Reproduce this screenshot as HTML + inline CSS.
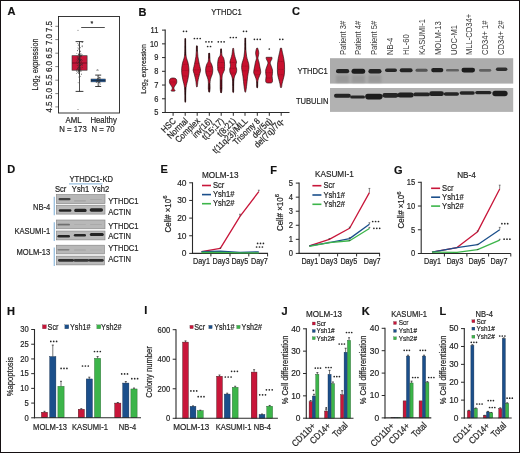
<!DOCTYPE html>
<html><head><meta charset="utf-8"><style>
html,body{margin:0;padding:0;background:#fff;}
svg{display:block;font-family:"Liberation Sans", sans-serif;will-change:transform;} text{stroke:#222;stroke-width:0.2px;} svg{font-variant-ligatures:none;font-feature-settings:"liga" 0;}
</style></head><body>
<svg width="520" height="453" viewBox="0 0 520 453">
<defs><filter id="blur" x="-20%" y="-100%" width="140%" height="300%"><feGaussianBlur stdDeviation="0.55"/></filter><filter id="blur2" x="-20%" y="-50%" width="140%" height="200%"><feGaussianBlur stdDeviation="1.2"/></filter></defs>
<rect x="0" y="0" width="520" height="453" fill="#fff"/>
<text x="7.50" y="14.60" font-size="11.00" text-anchor="start" fill="#111" font-weight="bold">A</text>
<line x1="55.30" y1="26.30" x2="58.50" y2="26.30" stroke="#444" stroke-width="0.65"/>
<text x="52.30" y="26.50" font-size="9.20" text-anchor="middle" fill="#262626" transform="rotate(-90 52.30 26.50)" textLength="11.12" lengthAdjust="spacingAndGlyphs">7.5</text>
<line x1="55.30" y1="39.60" x2="58.50" y2="39.60" stroke="#444" stroke-width="0.65"/>
<text x="52.30" y="39.50" font-size="9.20" text-anchor="middle" fill="#262626" transform="rotate(-90 52.30 39.50)" textLength="11.12" lengthAdjust="spacingAndGlyphs">7.0</text>
<line x1="55.30" y1="53.20" x2="58.50" y2="53.20" stroke="#444" stroke-width="0.65"/>
<text x="52.30" y="53.00" font-size="9.20" text-anchor="middle" fill="#262626" transform="rotate(-90 52.30 53.00)" textLength="11.12" lengthAdjust="spacingAndGlyphs">6.5</text>
<line x1="55.30" y1="66.60" x2="58.50" y2="66.60" stroke="#444" stroke-width="0.65"/>
<text x="52.30" y="66.50" font-size="9.20" text-anchor="middle" fill="#262626" transform="rotate(-90 52.30 66.50)" textLength="11.12" lengthAdjust="spacingAndGlyphs">6.0</text>
<line x1="55.30" y1="80.20" x2="58.50" y2="80.20" stroke="#444" stroke-width="0.65"/>
<text x="52.30" y="80.00" font-size="9.20" text-anchor="middle" fill="#262626" transform="rotate(-90 52.30 80.00)" textLength="11.12" lengthAdjust="spacingAndGlyphs">5.5</text>
<line x1="55.30" y1="93.60" x2="58.50" y2="93.60" stroke="#444" stroke-width="0.65"/>
<text x="52.30" y="93.50" font-size="9.20" text-anchor="middle" fill="#262626" transform="rotate(-90 52.30 93.50)" textLength="11.12" lengthAdjust="spacingAndGlyphs">5.0</text>
<line x1="55.30" y1="106.90" x2="58.50" y2="106.90" stroke="#444" stroke-width="0.65"/>
<text x="52.30" y="107.00" font-size="9.20" text-anchor="middle" fill="#262626" transform="rotate(-90 52.30 107.00)" textLength="11.12" lengthAdjust="spacingAndGlyphs">4.5</text>
<text x="38.00" y="64.50" font-size="8.40" text-anchor="middle" fill="#262626" transform="rotate(-90 38.00 64.50)" textLength="51.80" lengthAdjust="spacingAndGlyphs">Log<tspan font-size="6.4" dy="2.0">2</tspan><tspan dy="-2.0"> expression</tspan></text>
<line x1="79.50" y1="41.60" x2="79.50" y2="55.70" stroke="#222" stroke-width="0.8"/>
<line x1="79.50" y1="70.20" x2="79.50" y2="91.40" stroke="#222" stroke-width="0.8"/>
<line x1="75.60" y1="41.60" x2="83.40" y2="41.60" stroke="#222" stroke-width="0.9"/>
<line x1="75.60" y1="91.40" x2="83.40" y2="91.40" stroke="#222" stroke-width="0.9"/>
<rect x="72.00" y="55.70" width="15.10" height="14.50" fill="#c8163a" stroke="#333" stroke-width="0.6"/>
<line x1="72.00" y1="63.00" x2="87.10" y2="63.00" stroke="#4a0a12" stroke-width="0.65"/>
<line x1="79.50" y1="55.70" x2="79.50" y2="70.20" stroke="#222" stroke-width="0.6"/>
<circle cx="79.63" cy="73.63" r="0.42" fill="#2a2a2a" stroke="none" stroke-width="0.3"/>
<circle cx="78.20" cy="71.44" r="0.42" fill="#2a2a2a" stroke="none" stroke-width="0.3"/>
<circle cx="79.14" cy="60.78" r="0.42" fill="#2a2a2a" stroke="none" stroke-width="0.3"/>
<circle cx="82.16" cy="64.34" r="0.42" fill="#2a2a2a" stroke="none" stroke-width="0.3"/>
<circle cx="79.44" cy="69.20" r="0.42" fill="#2a2a2a" stroke="none" stroke-width="0.3"/>
<circle cx="81.08" cy="62.74" r="0.42" fill="#2a2a2a" stroke="none" stroke-width="0.3"/>
<circle cx="80.32" cy="54.72" r="0.42" fill="#2a2a2a" stroke="none" stroke-width="0.3"/>
<circle cx="78.99" cy="59.28" r="0.42" fill="#2a2a2a" stroke="none" stroke-width="0.3"/>
<circle cx="77.63" cy="50.18" r="0.42" fill="#2a2a2a" stroke="none" stroke-width="0.3"/>
<circle cx="77.22" cy="60.97" r="0.42" fill="#2a2a2a" stroke="none" stroke-width="0.3"/>
<circle cx="79.26" cy="60.28" r="0.42" fill="#2a2a2a" stroke="none" stroke-width="0.3"/>
<circle cx="79.60" cy="51.65" r="0.42" fill="#2a2a2a" stroke="none" stroke-width="0.3"/>
<circle cx="79.39" cy="65.02" r="0.42" fill="#2a2a2a" stroke="none" stroke-width="0.3"/>
<circle cx="80.55" cy="55.81" r="0.42" fill="#2a2a2a" stroke="none" stroke-width="0.3"/>
<circle cx="78.94" cy="45.87" r="0.42" fill="#2a2a2a" stroke="none" stroke-width="0.3"/>
<circle cx="78.79" cy="44.33" r="0.42" fill="#2a2a2a" stroke="none" stroke-width="0.3"/>
<circle cx="77.51" cy="72.36" r="0.42" fill="#2a2a2a" stroke="none" stroke-width="0.3"/>
<circle cx="76.42" cy="69.79" r="0.42" fill="#2a2a2a" stroke="none" stroke-width="0.3"/>
<circle cx="79.96" cy="60.35" r="0.42" fill="#2a2a2a" stroke="none" stroke-width="0.3"/>
<circle cx="80.14" cy="67.48" r="0.42" fill="#2a2a2a" stroke="none" stroke-width="0.3"/>
<circle cx="80.96" cy="61.04" r="0.42" fill="#2a2a2a" stroke="none" stroke-width="0.3"/>
<circle cx="78.67" cy="57.86" r="0.42" fill="#2a2a2a" stroke="none" stroke-width="0.3"/>
<circle cx="78.12" cy="62.62" r="0.42" fill="#2a2a2a" stroke="none" stroke-width="0.3"/>
<circle cx="78.40" cy="72.08" r="0.42" fill="#2a2a2a" stroke="none" stroke-width="0.3"/>
<circle cx="76.88" cy="53.70" r="0.42" fill="#2a2a2a" stroke="none" stroke-width="0.3"/>
<circle cx="78.17" cy="45.21" r="0.42" fill="#2a2a2a" stroke="none" stroke-width="0.3"/>
<circle cx="82.16" cy="42.53" r="0.42" fill="#2a2a2a" stroke="none" stroke-width="0.3"/>
<circle cx="79.10" cy="58.54" r="0.42" fill="#2a2a2a" stroke="none" stroke-width="0.3"/>
<circle cx="81.82" cy="46.12" r="0.42" fill="#2a2a2a" stroke="none" stroke-width="0.3"/>
<circle cx="81.00" cy="56.78" r="0.42" fill="#2a2a2a" stroke="none" stroke-width="0.3"/>
<circle cx="79.28" cy="57.30" r="0.42" fill="#2a2a2a" stroke="none" stroke-width="0.3"/>
<circle cx="80.40" cy="53.33" r="0.42" fill="#2a2a2a" stroke="none" stroke-width="0.3"/>
<circle cx="79.39" cy="66.00" r="0.42" fill="#2a2a2a" stroke="none" stroke-width="0.3"/>
<circle cx="82.08" cy="42.56" r="0.42" fill="#2a2a2a" stroke="none" stroke-width="0.3"/>
<circle cx="81.64" cy="71.06" r="0.42" fill="#2a2a2a" stroke="none" stroke-width="0.3"/>
<circle cx="78.82" cy="65.59" r="0.42" fill="#2a2a2a" stroke="none" stroke-width="0.3"/>
<circle cx="78.85" cy="77.00" r="0.42" fill="#2a2a2a" stroke="none" stroke-width="0.3"/>
<circle cx="79.79" cy="61.17" r="0.42" fill="#2a2a2a" stroke="none" stroke-width="0.3"/>
<circle cx="79.18" cy="61.30" r="0.42" fill="#2a2a2a" stroke="none" stroke-width="0.3"/>
<circle cx="79.25" cy="55.53" r="0.42" fill="#2a2a2a" stroke="none" stroke-width="0.3"/>
<circle cx="82.38" cy="46.76" r="0.42" fill="#2a2a2a" stroke="none" stroke-width="0.3"/>
<circle cx="76.30" cy="61.96" r="0.42" fill="#2a2a2a" stroke="none" stroke-width="0.3"/>
<circle cx="79.29" cy="66.17" r="0.42" fill="#2a2a2a" stroke="none" stroke-width="0.3"/>
<circle cx="79.21" cy="61.74" r="0.42" fill="#2a2a2a" stroke="none" stroke-width="0.3"/>
<circle cx="79.97" cy="71.23" r="0.42" fill="#2a2a2a" stroke="none" stroke-width="0.3"/>
<circle cx="78.87" cy="59.83" r="0.42" fill="#2a2a2a" stroke="none" stroke-width="0.3"/>
<circle cx="82.22" cy="67.51" r="0.42" fill="#2a2a2a" stroke="none" stroke-width="0.3"/>
<circle cx="78.12" cy="82.75" r="0.42" fill="#2a2a2a" stroke="none" stroke-width="0.3"/>
<circle cx="80.59" cy="57.99" r="0.42" fill="#2a2a2a" stroke="none" stroke-width="0.3"/>
<circle cx="77.86" cy="65.54" r="0.42" fill="#2a2a2a" stroke="none" stroke-width="0.3"/>
<circle cx="78.33" cy="54.01" r="0.42" fill="#2a2a2a" stroke="none" stroke-width="0.3"/>
<circle cx="77.69" cy="58.70" r="0.42" fill="#2a2a2a" stroke="none" stroke-width="0.3"/>
<circle cx="81.05" cy="59.32" r="0.42" fill="#2a2a2a" stroke="none" stroke-width="0.3"/>
<circle cx="77.47" cy="68.69" r="0.42" fill="#2a2a2a" stroke="none" stroke-width="0.3"/>
<circle cx="79.59" cy="70.17" r="0.42" fill="#2a2a2a" stroke="none" stroke-width="0.3"/>
<circle cx="81.18" cy="61.57" r="0.42" fill="#2a2a2a" stroke="none" stroke-width="0.3"/>
<circle cx="79.30" cy="62.61" r="0.42" fill="#2a2a2a" stroke="none" stroke-width="0.3"/>
<circle cx="77.91" cy="68.69" r="0.42" fill="#2a2a2a" stroke="none" stroke-width="0.3"/>
<circle cx="81.42" cy="64.48" r="0.42" fill="#2a2a2a" stroke="none" stroke-width="0.3"/>
<circle cx="79.17" cy="60.79" r="0.42" fill="#2a2a2a" stroke="none" stroke-width="0.3"/>
<circle cx="78.41" cy="56.17" r="0.42" fill="#2a2a2a" stroke="none" stroke-width="0.3"/>
<circle cx="78.94" cy="55.84" r="0.42" fill="#2a2a2a" stroke="none" stroke-width="0.3"/>
<circle cx="78.89" cy="49.59" r="0.42" fill="#2a2a2a" stroke="none" stroke-width="0.3"/>
<circle cx="79.99" cy="63.42" r="0.42" fill="#2a2a2a" stroke="none" stroke-width="0.3"/>
<circle cx="77.89" cy="43.46" r="0.42" fill="#2a2a2a" stroke="none" stroke-width="0.3"/>
<circle cx="79.49" cy="72.38" r="0.42" fill="#2a2a2a" stroke="none" stroke-width="0.3"/>
<circle cx="78.47" cy="58.89" r="0.42" fill="#2a2a2a" stroke="none" stroke-width="0.3"/>
<circle cx="78.70" cy="68.55" r="0.42" fill="#2a2a2a" stroke="none" stroke-width="0.3"/>
<circle cx="78.22" cy="71.38" r="0.42" fill="#2a2a2a" stroke="none" stroke-width="0.3"/>
<circle cx="79.08" cy="70.86" r="0.42" fill="#2a2a2a" stroke="none" stroke-width="0.3"/>
<circle cx="79.55" cy="61.03" r="0.42" fill="#2a2a2a" stroke="none" stroke-width="0.3"/>
<circle cx="77.43" cy="57.16" r="0.42" fill="#2a2a2a" stroke="none" stroke-width="0.3"/>
<circle cx="79.13" cy="68.61" r="0.42" fill="#2a2a2a" stroke="none" stroke-width="0.3"/>
<circle cx="79.84" cy="57.08" r="0.42" fill="#2a2a2a" stroke="none" stroke-width="0.3"/>
<circle cx="80.07" cy="71.39" r="0.42" fill="#2a2a2a" stroke="none" stroke-width="0.3"/>
<circle cx="79.29" cy="59.27" r="0.42" fill="#2a2a2a" stroke="none" stroke-width="0.3"/>
<circle cx="78.95" cy="69.89" r="0.42" fill="#2a2a2a" stroke="none" stroke-width="0.3"/>
<circle cx="80.25" cy="55.10" r="0.42" fill="#2a2a2a" stroke="none" stroke-width="0.3"/>
<circle cx="80.02" cy="58.92" r="0.42" fill="#2a2a2a" stroke="none" stroke-width="0.3"/>
<circle cx="78.45" cy="73.54" r="0.42" fill="#2a2a2a" stroke="none" stroke-width="0.3"/>
<circle cx="80.65" cy="56.84" r="0.42" fill="#2a2a2a" stroke="none" stroke-width="0.3"/>
<circle cx="79.61" cy="67.26" r="0.42" fill="#2a2a2a" stroke="none" stroke-width="0.3"/>
<circle cx="78.60" cy="61.98" r="0.42" fill="#2a2a2a" stroke="none" stroke-width="0.3"/>
<circle cx="80.43" cy="47.79" r="0.42" fill="#2a2a2a" stroke="none" stroke-width="0.3"/>
<circle cx="79.96" cy="69.28" r="0.42" fill="#2a2a2a" stroke="none" stroke-width="0.3"/>
<circle cx="80.21" cy="51.60" r="0.42" fill="#2a2a2a" stroke="none" stroke-width="0.3"/>
<circle cx="79.95" cy="55.66" r="0.42" fill="#2a2a2a" stroke="none" stroke-width="0.3"/>
<circle cx="80.30" cy="68.14" r="0.42" fill="#2a2a2a" stroke="none" stroke-width="0.3"/>
<circle cx="79.80" cy="56.49" r="0.42" fill="#2a2a2a" stroke="none" stroke-width="0.3"/>
<circle cx="78.67" cy="70.26" r="0.42" fill="#2a2a2a" stroke="none" stroke-width="0.3"/>
<circle cx="78.24" cy="67.21" r="0.42" fill="#2a2a2a" stroke="none" stroke-width="0.3"/>
<circle cx="80.22" cy="60.63" r="0.42" fill="#2a2a2a" stroke="none" stroke-width="0.3"/>
<circle cx="82.70" cy="63.60" r="0.42" fill="#2a2a2a" stroke="none" stroke-width="0.3"/>
<circle cx="82.51" cy="45.86" r="0.42" fill="#2a2a2a" stroke="none" stroke-width="0.3"/>
<circle cx="76.36" cy="71.35" r="0.42" fill="#2a2a2a" stroke="none" stroke-width="0.3"/>
<circle cx="80.39" cy="60.35" r="0.42" fill="#2a2a2a" stroke="none" stroke-width="0.3"/>
<circle cx="79.43" cy="46.82" r="0.42" fill="#2a2a2a" stroke="none" stroke-width="0.3"/>
<circle cx="78.62" cy="54.21" r="0.42" fill="#2a2a2a" stroke="none" stroke-width="0.3"/>
<circle cx="79.19" cy="70.53" r="0.42" fill="#2a2a2a" stroke="none" stroke-width="0.3"/>
<circle cx="79.57" cy="66.16" r="0.42" fill="#2a2a2a" stroke="none" stroke-width="0.3"/>
<circle cx="78.52" cy="59.30" r="0.42" fill="#2a2a2a" stroke="none" stroke-width="0.3"/>
<circle cx="79.66" cy="60.60" r="0.42" fill="#2a2a2a" stroke="none" stroke-width="0.3"/>
<circle cx="81.27" cy="55.56" r="0.42" fill="#2a2a2a" stroke="none" stroke-width="0.3"/>
<circle cx="82.15" cy="54.66" r="0.42" fill="#2a2a2a" stroke="none" stroke-width="0.3"/>
<circle cx="80.98" cy="56.43" r="0.42" fill="#2a2a2a" stroke="none" stroke-width="0.3"/>
<circle cx="81.81" cy="64.16" r="0.42" fill="#2a2a2a" stroke="none" stroke-width="0.3"/>
<circle cx="80.06" cy="69.33" r="0.42" fill="#2a2a2a" stroke="none" stroke-width="0.3"/>
<circle cx="78.61" cy="54.14" r="0.42" fill="#2a2a2a" stroke="none" stroke-width="0.3"/>
<circle cx="76.66" cy="73.37" r="0.42" fill="#2a2a2a" stroke="none" stroke-width="0.3"/>
<circle cx="78.53" cy="57.97" r="0.42" fill="#2a2a2a" stroke="none" stroke-width="0.3"/>
<circle cx="79.46" cy="79.90" r="0.42" fill="#2a2a2a" stroke="none" stroke-width="0.3"/>
<circle cx="77.08" cy="65.12" r="0.42" fill="#2a2a2a" stroke="none" stroke-width="0.3"/>
<circle cx="78.95" cy="67.52" r="0.42" fill="#2a2a2a" stroke="none" stroke-width="0.3"/>
<circle cx="76.98" cy="59.62" r="0.42" fill="#2a2a2a" stroke="none" stroke-width="0.3"/>
<circle cx="80.68" cy="76.25" r="0.42" fill="#2a2a2a" stroke="none" stroke-width="0.3"/>
<circle cx="81.74" cy="55.73" r="0.42" fill="#2a2a2a" stroke="none" stroke-width="0.3"/>
<circle cx="79.58" cy="62.07" r="0.42" fill="#2a2a2a" stroke="none" stroke-width="0.3"/>
<circle cx="77.57" cy="50.76" r="0.42" fill="#2a2a2a" stroke="none" stroke-width="0.3"/>
<circle cx="80.56" cy="65.09" r="0.42" fill="#2a2a2a" stroke="none" stroke-width="0.3"/>
<circle cx="79.30" cy="73.33" r="0.42" fill="#2a2a2a" stroke="none" stroke-width="0.3"/>
<circle cx="78.10" cy="67.48" r="0.42" fill="#2a2a2a" stroke="none" stroke-width="0.3"/>
<circle cx="79.51" cy="62.50" r="0.42" fill="#2a2a2a" stroke="none" stroke-width="0.3"/>
<circle cx="80.19" cy="64.50" r="0.42" fill="#2a2a2a" stroke="none" stroke-width="0.3"/>
<circle cx="79.87" cy="65.26" r="0.42" fill="#2a2a2a" stroke="none" stroke-width="0.3"/>
<circle cx="82.21" cy="60.36" r="0.42" fill="#2a2a2a" stroke="none" stroke-width="0.3"/>
<circle cx="80.92" cy="68.17" r="0.42" fill="#2a2a2a" stroke="none" stroke-width="0.3"/>
<circle cx="79.01" cy="69.76" r="0.42" fill="#2a2a2a" stroke="none" stroke-width="0.3"/>
<circle cx="78.30" cy="72.86" r="0.42" fill="#2a2a2a" stroke="none" stroke-width="0.3"/>
<circle cx="78.37" cy="58.84" r="0.42" fill="#2a2a2a" stroke="none" stroke-width="0.3"/>
<circle cx="79.95" cy="70.08" r="0.42" fill="#2a2a2a" stroke="none" stroke-width="0.3"/>
<circle cx="80.77" cy="70.59" r="0.42" fill="#2a2a2a" stroke="none" stroke-width="0.3"/>
<circle cx="79.21" cy="54.87" r="0.42" fill="#2a2a2a" stroke="none" stroke-width="0.3"/>
<circle cx="80.27" cy="65.57" r="0.42" fill="#2a2a2a" stroke="none" stroke-width="0.3"/>
<circle cx="78.17" cy="71.27" r="0.42" fill="#2a2a2a" stroke="none" stroke-width="0.3"/>
<circle cx="79.78" cy="54.86" r="0.42" fill="#2a2a2a" stroke="none" stroke-width="0.3"/>
<circle cx="80.12" cy="51.74" r="0.42" fill="#2a2a2a" stroke="none" stroke-width="0.3"/>
<circle cx="78.27" cy="66.42" r="0.42" fill="#2a2a2a" stroke="none" stroke-width="0.3"/>
<circle cx="77.32" cy="63.32" r="0.42" fill="#2a2a2a" stroke="none" stroke-width="0.3"/>
<circle cx="77.61" cy="69.27" r="0.42" fill="#2a2a2a" stroke="none" stroke-width="0.3"/>
<circle cx="78.48" cy="64.55" r="0.42" fill="#2a2a2a" stroke="none" stroke-width="0.3"/>
<circle cx="77.40" cy="60.07" r="0.42" fill="#2a2a2a" stroke="none" stroke-width="0.3"/>
<circle cx="80.83" cy="66.89" r="0.42" fill="#2a2a2a" stroke="none" stroke-width="0.3"/>
<circle cx="76.93" cy="70.86" r="0.42" fill="#2a2a2a" stroke="none" stroke-width="0.3"/>
<circle cx="80.75" cy="59.80" r="0.42" fill="#2a2a2a" stroke="none" stroke-width="0.3"/>
<circle cx="81.48" cy="54.00" r="0.42" fill="#2a2a2a" stroke="none" stroke-width="0.3"/>
<circle cx="79.38" cy="72.47" r="0.42" fill="#2a2a2a" stroke="none" stroke-width="0.3"/>
<circle cx="81.33" cy="73.88" r="0.42" fill="#2a2a2a" stroke="none" stroke-width="0.3"/>
<circle cx="77.97" cy="47.87" r="0.42" fill="#2a2a2a" stroke="none" stroke-width="0.3"/>
<circle cx="80.05" cy="50.83" r="0.42" fill="#2a2a2a" stroke="none" stroke-width="0.3"/>
<circle cx="79.32" cy="52.11" r="0.42" fill="#2a2a2a" stroke="none" stroke-width="0.3"/>
<circle cx="80.99" cy="69.83" r="0.42" fill="#2a2a2a" stroke="none" stroke-width="0.3"/>
<circle cx="80.28" cy="63.15" r="0.42" fill="#2a2a2a" stroke="none" stroke-width="0.3"/>
<circle cx="79.56" cy="60.47" r="0.42" fill="#2a2a2a" stroke="none" stroke-width="0.3"/>
<circle cx="80.04" cy="65.12" r="0.42" fill="#2a2a2a" stroke="none" stroke-width="0.3"/>
<circle cx="80.14" cy="59.36" r="0.42" fill="#2a2a2a" stroke="none" stroke-width="0.3"/>
<circle cx="82.16" cy="65.40" r="0.42" fill="#2a2a2a" stroke="none" stroke-width="0.3"/>
<circle cx="81.45" cy="74.31" r="0.42" fill="#2a2a2a" stroke="none" stroke-width="0.3"/>
<circle cx="78.27" cy="48.66" r="0.42" fill="#2a2a2a" stroke="none" stroke-width="0.3"/>
<circle cx="81.26" cy="59.71" r="0.42" fill="#2a2a2a" stroke="none" stroke-width="0.3"/>
<circle cx="79.61" cy="60.80" r="0.42" fill="#2a2a2a" stroke="none" stroke-width="0.3"/>
<circle cx="79.68" cy="52.89" r="0.42" fill="#2a2a2a" stroke="none" stroke-width="0.3"/>
<circle cx="79.36" cy="59.06" r="0.42" fill="#2a2a2a" stroke="none" stroke-width="0.3"/>
<circle cx="79.48" cy="43.15" r="0.42" fill="#2a2a2a" stroke="none" stroke-width="0.3"/>
<circle cx="80.65" cy="65.82" r="0.42" fill="#2a2a2a" stroke="none" stroke-width="0.3"/>
<circle cx="77.08" cy="56.76" r="0.42" fill="#2a2a2a" stroke="none" stroke-width="0.3"/>
<circle cx="79.54" cy="68.34" r="0.42" fill="#2a2a2a" stroke="none" stroke-width="0.3"/>
<circle cx="79.50" cy="74.76" r="0.42" fill="#2a2a2a" stroke="none" stroke-width="0.3"/>
<circle cx="79.53" cy="54.50" r="0.42" fill="#2a2a2a" stroke="none" stroke-width="0.3"/>
<circle cx="78.55" cy="69.32" r="0.42" fill="#2a2a2a" stroke="none" stroke-width="0.3"/>
<circle cx="78.64" cy="70.15" r="0.42" fill="#2a2a2a" stroke="none" stroke-width="0.3"/>
<circle cx="78.00" cy="30.20" r="0.50" fill="#555" stroke="none" stroke-width="0.3"/>
<circle cx="78.00" cy="109.60" r="0.50" fill="#555" stroke="none" stroke-width="0.3"/>
<line x1="98.20" y1="75.10" x2="98.20" y2="86.50" stroke="#222" stroke-width="0.8"/>
<line x1="95.20" y1="75.10" x2="101.20" y2="75.10" stroke="#222" stroke-width="0.9"/>
<line x1="95.20" y1="86.50" x2="101.20" y2="86.50" stroke="#222" stroke-width="0.9"/>
<rect x="91.00" y="79.00" width="14.30" height="2.90" fill="#1f5fa8" stroke="#333" stroke-width="0.5"/>
<line x1="91.00" y1="80.40" x2="105.30" y2="80.40" stroke="#111" stroke-width="0.6"/>
<circle cx="97.82" cy="80.49" r="0.40" fill="#333" stroke="none" stroke-width="0.3"/>
<circle cx="99.29" cy="82.62" r="0.40" fill="#333" stroke="none" stroke-width="0.3"/>
<circle cx="99.33" cy="83.87" r="0.40" fill="#333" stroke="none" stroke-width="0.3"/>
<circle cx="98.96" cy="77.53" r="0.40" fill="#333" stroke="none" stroke-width="0.3"/>
<circle cx="98.83" cy="80.18" r="0.40" fill="#333" stroke="none" stroke-width="0.3"/>
<circle cx="99.95" cy="81.19" r="0.40" fill="#333" stroke="none" stroke-width="0.3"/>
<circle cx="99.29" cy="81.44" r="0.40" fill="#333" stroke="none" stroke-width="0.3"/>
<circle cx="100.03" cy="77.70" r="0.40" fill="#333" stroke="none" stroke-width="0.3"/>
<circle cx="99.16" cy="80.20" r="0.40" fill="#333" stroke="none" stroke-width="0.3"/>
<circle cx="96.82" cy="80.31" r="0.40" fill="#333" stroke="none" stroke-width="0.3"/>
<circle cx="98.58" cy="82.22" r="0.40" fill="#333" stroke="none" stroke-width="0.3"/>
<circle cx="97.39" cy="80.94" r="0.40" fill="#333" stroke="none" stroke-width="0.3"/>
<circle cx="100.20" cy="84.46" r="0.40" fill="#333" stroke="none" stroke-width="0.3"/>
<circle cx="97.30" cy="79.76" r="0.40" fill="#333" stroke="none" stroke-width="0.3"/>
<circle cx="99.76" cy="77.92" r="0.40" fill="#333" stroke="none" stroke-width="0.3"/>
<circle cx="98.57" cy="80.30" r="0.40" fill="#333" stroke="none" stroke-width="0.3"/>
<circle cx="96.10" cy="82.31" r="0.40" fill="#333" stroke="none" stroke-width="0.3"/>
<circle cx="98.11" cy="79.32" r="0.40" fill="#333" stroke="none" stroke-width="0.3"/>
<circle cx="97.59" cy="81.57" r="0.40" fill="#333" stroke="none" stroke-width="0.3"/>
<circle cx="97.42" cy="80.72" r="0.40" fill="#333" stroke="none" stroke-width="0.3"/>
<circle cx="100.36" cy="79.07" r="0.40" fill="#333" stroke="none" stroke-width="0.3"/>
<circle cx="98.11" cy="78.13" r="0.40" fill="#333" stroke="none" stroke-width="0.3"/>
<circle cx="99.67" cy="78.80" r="0.40" fill="#333" stroke="none" stroke-width="0.3"/>
<circle cx="99.62" cy="77.71" r="0.40" fill="#333" stroke="none" stroke-width="0.3"/>
<circle cx="99.17" cy="79.45" r="0.40" fill="#333" stroke="none" stroke-width="0.3"/>
<circle cx="99.77" cy="77.07" r="0.40" fill="#333" stroke="none" stroke-width="0.3"/>
<circle cx="100.23" cy="82.98" r="0.40" fill="#333" stroke="none" stroke-width="0.3"/>
<circle cx="98.06" cy="80.74" r="0.40" fill="#333" stroke="none" stroke-width="0.3"/>
<circle cx="99.16" cy="82.39" r="0.40" fill="#333" stroke="none" stroke-width="0.3"/>
<circle cx="98.97" cy="85.43" r="0.40" fill="#333" stroke="none" stroke-width="0.3"/>
<circle cx="97.07" cy="79.19" r="0.40" fill="#333" stroke="none" stroke-width="0.3"/>
<circle cx="96.83" cy="80.41" r="0.40" fill="#333" stroke="none" stroke-width="0.3"/>
<circle cx="99.10" cy="82.17" r="0.40" fill="#333" stroke="none" stroke-width="0.3"/>
<circle cx="99.78" cy="82.11" r="0.40" fill="#333" stroke="none" stroke-width="0.3"/>
<circle cx="99.81" cy="79.32" r="0.40" fill="#333" stroke="none" stroke-width="0.3"/>
<circle cx="97.38" cy="76.78" r="0.40" fill="#333" stroke="none" stroke-width="0.3"/>
<circle cx="96.38" cy="82.45" r="0.40" fill="#333" stroke="none" stroke-width="0.3"/>
<circle cx="96.41" cy="81.59" r="0.40" fill="#333" stroke="none" stroke-width="0.3"/>
<circle cx="97.57" cy="78.63" r="0.40" fill="#333" stroke="none" stroke-width="0.3"/>
<circle cx="98.55" cy="80.36" r="0.40" fill="#333" stroke="none" stroke-width="0.3"/>
<circle cx="97.47" cy="80.23" r="0.40" fill="#333" stroke="none" stroke-width="0.3"/>
<circle cx="97.92" cy="78.72" r="0.40" fill="#333" stroke="none" stroke-width="0.3"/>
<circle cx="98.57" cy="80.66" r="0.40" fill="#333" stroke="none" stroke-width="0.3"/>
<circle cx="100.20" cy="77.98" r="0.40" fill="#333" stroke="none" stroke-width="0.3"/>
<path d="M96.6,70.5 L97.5,69 L98.4,70.5 Z" fill="none" stroke="#444" stroke-width="0.4"/>
<line x1="81.20" y1="27.50" x2="104.80" y2="27.50" stroke="#222" stroke-width="0.8"/>
<text x="91.90" y="26.20" font-size="8.05" text-anchor="middle" fill="#222" textLength="2.72" lengthAdjust="spacingAndGlyphs">*</text>
<rect x="58.50" y="16.50" width="61.00" height="96.50" fill="none" stroke="#222" stroke-width="0.9"/>
<text x="73.50" y="122.80" font-size="8.97" text-anchor="middle" fill="#262626" textLength="16.04" lengthAdjust="spacingAndGlyphs">AML</text>
<text x="103.60" y="122.80" font-size="8.97" text-anchor="middle" fill="#262626" textLength="26.45" lengthAdjust="spacingAndGlyphs">Healthy</text>
<text x="73.00" y="131.80" font-size="8.97" text-anchor="middle" fill="#262626" textLength="27.54" lengthAdjust="spacingAndGlyphs">N = 173</text>
<text x="103.00" y="131.80" font-size="8.97" text-anchor="middle" fill="#262626" textLength="23.20" lengthAdjust="spacingAndGlyphs">N = 70</text>
<text x="138.60" y="16.20" font-size="11.00" text-anchor="start" fill="#111" font-weight="bold">B</text>
<text x="226.50" y="15.10" font-size="8.74" text-anchor="middle" fill="#262626" textLength="30.40" lengthAdjust="spacingAndGlyphs">YTHDC1</text>
<line x1="165.20" y1="29.62" x2="165.20" y2="113.00" stroke="#2a2a2a" stroke-width="1.1"/>
<line x1="162.00" y1="112.50" x2="165.20" y2="112.50" stroke="#2a2a2a" stroke-width="1.0"/>
<text x="158.30" y="115.40" font-size="8.62" text-anchor="end" fill="#262626" textLength="4.17" lengthAdjust="spacingAndGlyphs">5</text>
<line x1="162.00" y1="98.77" x2="165.20" y2="98.77" stroke="#2a2a2a" stroke-width="1.0"/>
<text x="158.30" y="101.67" font-size="8.62" text-anchor="end" fill="#262626" textLength="4.17" lengthAdjust="spacingAndGlyphs">6</text>
<line x1="162.00" y1="85.04" x2="165.20" y2="85.04" stroke="#2a2a2a" stroke-width="1.0"/>
<text x="158.30" y="87.94" font-size="8.62" text-anchor="end" fill="#262626" textLength="4.17" lengthAdjust="spacingAndGlyphs">7</text>
<line x1="162.00" y1="71.31" x2="165.20" y2="71.31" stroke="#2a2a2a" stroke-width="1.0"/>
<text x="158.30" y="74.21" font-size="8.62" text-anchor="end" fill="#262626" textLength="4.17" lengthAdjust="spacingAndGlyphs">8</text>
<line x1="162.00" y1="57.58" x2="165.20" y2="57.58" stroke="#2a2a2a" stroke-width="1.0"/>
<text x="158.30" y="60.48" font-size="8.62" text-anchor="end" fill="#262626" textLength="4.17" lengthAdjust="spacingAndGlyphs">9</text>
<line x1="162.00" y1="43.85" x2="165.20" y2="43.85" stroke="#2a2a2a" stroke-width="1.0"/>
<text x="158.30" y="46.75" font-size="8.62" text-anchor="end" fill="#262626" textLength="8.34" lengthAdjust="spacingAndGlyphs">10</text>
<line x1="162.00" y1="30.12" x2="165.20" y2="30.12" stroke="#2a2a2a" stroke-width="1.0"/>
<text x="158.30" y="33.02" font-size="8.62" text-anchor="end" fill="#262626" textLength="7.78" lengthAdjust="spacingAndGlyphs">11</text>
<text x="145.60" y="69.00" font-size="7.70" text-anchor="middle" fill="#262626" transform="rotate(-90 145.60 69.00)" textLength="49.40" lengthAdjust="spacingAndGlyphs">Log<tspan font-size="6.0" dy="2.0">2</tspan><tspan dy="-2.0"> expression</tspan></text>
<line x1="164.70" y1="112.50" x2="289.50" y2="112.50" stroke="#2a2a2a" stroke-width="1.1"/>
<line x1="173.10" y1="112.50" x2="173.10" y2="115.80" stroke="#2a2a2a" stroke-width="1.0"/>
<line x1="185.20" y1="112.50" x2="185.20" y2="115.80" stroke="#2a2a2a" stroke-width="1.0"/>
<line x1="197.20" y1="112.50" x2="197.20" y2="115.80" stroke="#2a2a2a" stroke-width="1.0"/>
<line x1="209.30" y1="112.50" x2="209.30" y2="115.80" stroke="#2a2a2a" stroke-width="1.0"/>
<line x1="221.20" y1="112.50" x2="221.20" y2="115.80" stroke="#2a2a2a" stroke-width="1.0"/>
<line x1="233.30" y1="112.50" x2="233.30" y2="115.80" stroke="#2a2a2a" stroke-width="1.0"/>
<line x1="245.00" y1="112.50" x2="245.00" y2="115.80" stroke="#2a2a2a" stroke-width="1.0"/>
<line x1="257.30" y1="112.50" x2="257.30" y2="115.80" stroke="#2a2a2a" stroke-width="1.0"/>
<line x1="269.30" y1="112.50" x2="269.30" y2="115.80" stroke="#2a2a2a" stroke-width="1.0"/>
<line x1="281.20" y1="112.50" x2="281.20" y2="115.80" stroke="#2a2a2a" stroke-width="1.0"/>
<path d="M173.90,78.00 C174.20,78.10 175.25,78.27 175.70,78.60 C176.15,78.93 176.43,79.30 176.60,80.00 C176.77,80.70 176.95,81.87 176.70,82.80 C176.45,83.73 175.55,84.80 175.10,85.60 C174.65,86.40 174.17,87.00 174.00,87.60 C173.83,88.20 173.93,88.73 174.10,89.20 C174.27,89.67 174.90,90.08 175.00,90.40 C175.10,90.72 175.28,90.98 174.70,91.10 C174.12,91.22 172.08,91.22 171.50,91.10 C170.92,90.98 171.10,90.72 171.20,90.40 C171.30,90.08 171.93,89.67 172.10,89.20 C172.27,88.73 172.37,88.20 172.20,87.60 C172.03,87.00 171.55,86.40 171.10,85.60 C170.65,84.80 169.75,83.73 169.50,82.80 C169.25,81.87 169.43,80.70 169.60,80.00 C169.77,79.30 170.05,78.93 170.50,78.60 C170.95,78.27 171.73,78.10 172.30,78.00 C172.87,77.90 173.63,78.00 173.90,78.00 Z" fill="#c8102e" stroke="#120606" stroke-width="0.6"/>
<line x1="170.03" y1="82.00" x2="176.17" y2="82.00" stroke="#5a0a14" stroke-width="0.35" stroke-dasharray="0.8 0.6"/>
<path d="M185.65,38.90 C185.66,40.25 185.64,44.32 185.70,47.00 C185.76,49.68 185.82,53.00 186.00,55.00 C186.18,57.00 186.50,57.83 186.80,59.00 C187.10,60.17 187.50,60.85 187.80,62.00 C188.10,63.15 188.40,64.48 188.60,65.90 C188.80,67.32 189.00,68.95 189.00,70.50 C189.00,72.05 188.80,73.65 188.60,75.20 C188.40,76.75 188.10,78.38 187.80,79.80 C187.50,81.22 187.08,82.42 186.80,83.70 C186.52,84.98 186.28,85.78 186.10,87.50 C185.92,89.22 185.78,91.67 185.70,94.00 C185.62,96.33 185.78,100.25 185.65,101.50 C185.53,102.75 185.08,102.75 184.95,101.50 C184.83,100.25 184.98,96.33 184.90,94.00 C184.82,91.67 184.68,89.22 184.50,87.50 C184.32,85.78 184.08,84.98 183.80,83.70 C183.52,82.42 183.10,81.22 182.80,79.80 C182.50,78.38 182.20,76.75 182.00,75.20 C181.80,73.65 181.60,72.05 181.60,70.50 C181.60,68.95 181.80,67.32 182.00,65.90 C182.20,64.48 182.50,63.15 182.80,62.00 C183.10,60.85 183.50,60.17 183.80,59.00 C184.10,57.83 184.42,57.00 184.60,55.00 C184.78,53.00 184.84,49.68 184.90,47.00 C184.96,44.32 184.83,40.25 184.95,38.90 C185.08,37.55 185.53,38.90 185.65,38.90 Z" fill="#c8102e" stroke="#120606" stroke-width="0.6"/>
<line x1="185.30" y1="38.90" x2="185.30" y2="47.00" stroke="#150707" stroke-width="0.95" stroke-linecap="round"/>
<line x1="185.30" y1="47.00" x2="185.30" y2="55.00" stroke="#150707" stroke-width="0.95" stroke-linecap="round"/>
<line x1="185.30" y1="87.50" x2="185.30" y2="94.00" stroke="#150707" stroke-width="0.95" stroke-linecap="round"/>
<line x1="185.30" y1="94.00" x2="185.30" y2="101.50" stroke="#150707" stroke-width="0.95" stroke-linecap="round"/>
<line x1="182.81" y1="64.40" x2="187.79" y2="64.40" stroke="#5a0a14" stroke-width="0.35" stroke-dasharray="0.8 0.6"/>
<line x1="182.10" y1="70.50" x2="188.50" y2="70.50" stroke="#5a0a14" stroke-width="0.35" stroke-dasharray="0.8 0.6"/>
<line x1="182.64" y1="76.00" x2="187.96" y2="76.00" stroke="#5a0a14" stroke-width="0.35" stroke-dasharray="0.8 0.6"/>
<path d="M197.30,46.10 C197.33,46.92 197.40,49.25 197.50,51.00 C197.60,52.75 197.67,54.77 197.90,56.60 C198.13,58.43 198.57,60.32 198.90,62.00 C199.23,63.68 199.62,65.33 199.90,66.70 C200.18,68.07 200.63,69.05 200.60,70.20 C200.57,71.35 200.02,72.38 199.70,73.60 C199.38,74.82 199.00,76.20 198.70,77.50 C198.40,78.80 198.13,79.90 197.90,81.40 C197.67,82.90 197.53,85.65 197.30,86.50 C197.07,87.35 196.73,87.35 196.50,86.50 C196.27,85.65 196.13,82.90 195.90,81.40 C195.67,79.90 195.40,78.80 195.10,77.50 C194.80,76.20 194.42,74.82 194.10,73.60 C193.78,72.38 193.23,71.35 193.20,70.20 C193.17,69.05 193.62,68.07 193.90,66.70 C194.18,65.33 194.57,63.68 194.90,62.00 C195.23,60.32 195.67,58.43 195.90,56.60 C196.13,54.77 196.20,52.75 196.30,51.00 C196.40,49.25 196.33,46.92 196.50,46.10 C196.67,45.28 197.17,46.10 197.30,46.10 Z" fill="#c8102e" stroke="#120606" stroke-width="0.6"/>
<line x1="196.90" y1="46.10" x2="196.90" y2="51.00" stroke="#150707" stroke-width="0.95" stroke-linecap="round"/>
<line x1="195.06" y1="63.60" x2="198.74" y2="63.60" stroke="#5a0a14" stroke-width="0.35" stroke-dasharray="0.8 0.6"/>
<line x1="193.78" y1="69.80" x2="200.02" y2="69.80" stroke="#5a0a14" stroke-width="0.35" stroke-dasharray="0.8 0.6"/>
<line x1="194.81" y1="74.40" x2="198.99" y2="74.40" stroke="#5a0a14" stroke-width="0.35" stroke-dasharray="0.8 0.6"/>
<path d="M209.70,53.40 C209.73,54.17 209.82,56.67 209.90,58.00 C209.98,59.33 209.95,60.45 210.20,61.40 C210.45,62.35 211.03,62.83 211.40,63.70 C211.77,64.57 212.17,65.53 212.40,66.60 C212.63,67.67 212.80,68.92 212.80,70.10 C212.80,71.28 212.63,72.62 212.40,73.70 C212.17,74.78 211.73,75.63 211.40,76.60 C211.07,77.57 210.63,78.33 210.40,79.50 C210.17,80.67 210.05,82.13 210.00,83.60 C209.95,85.07 210.17,86.93 210.10,88.30 C210.03,89.67 209.82,91.22 209.60,91.80 C209.38,92.38 209.02,92.38 208.80,91.80 C208.58,91.22 208.37,89.67 208.30,88.30 C208.23,86.93 208.45,85.07 208.40,83.60 C208.35,82.13 208.23,80.67 208.00,79.50 C207.77,78.33 207.33,77.57 207.00,76.60 C206.67,75.63 206.23,74.78 206.00,73.70 C205.77,72.62 205.60,71.28 205.60,70.10 C205.60,68.92 205.77,67.67 206.00,66.60 C206.23,65.53 206.63,64.57 207.00,63.70 C207.37,62.83 207.95,62.35 208.20,61.40 C208.45,60.45 208.42,59.33 208.50,58.00 C208.58,56.67 208.50,54.17 208.70,53.40 C208.90,52.63 209.53,53.40 209.70,53.40 Z" fill="#c8102e" stroke="#120606" stroke-width="0.6"/>
<line x1="209.20" y1="53.40" x2="209.20" y2="58.00" stroke="#150707" stroke-width="0.95" stroke-linecap="round"/>
<line x1="209.20" y1="83.60" x2="209.20" y2="88.30" stroke="#150707" stroke-width="0.95" stroke-linecap="round"/>
<line x1="209.20" y1="88.30" x2="209.20" y2="91.80" stroke="#150707" stroke-width="0.95" stroke-linecap="round"/>
<line x1="206.50" y1="66.60" x2="211.90" y2="66.60" stroke="#5a0a14" stroke-width="0.35" stroke-dasharray="0.8 0.6"/>
<line x1="206.23" y1="71.30" x2="212.17" y2="71.30" stroke="#5a0a14" stroke-width="0.35" stroke-dasharray="0.8 0.6"/>
<line x1="207.29" y1="76.00" x2="211.11" y2="76.00" stroke="#5a0a14" stroke-width="0.35" stroke-dasharray="0.8 0.6"/>
<path d="M221.50,49.10 C221.53,49.67 221.60,51.43 221.70,52.50 C221.80,53.57 221.78,54.60 222.10,55.50 C222.42,56.40 223.22,56.92 223.60,57.90 C223.98,58.88 224.23,60.23 224.40,61.40 C224.57,62.57 224.58,63.73 224.60,64.90 C224.62,66.07 224.53,67.53 224.50,68.40 C224.47,69.27 224.63,69.32 224.40,70.10 C224.17,70.88 223.45,72.22 223.10,73.10 C222.75,73.98 222.48,74.23 222.30,75.40 C222.12,76.57 222.05,77.95 222.00,80.10 C221.95,82.25 222.08,86.25 222.00,88.30 C221.92,90.35 221.72,91.72 221.50,92.40 C221.28,93.08 220.92,93.08 220.70,92.40 C220.48,91.72 220.28,90.35 220.20,88.30 C220.12,86.25 220.25,82.25 220.20,80.10 C220.15,77.95 220.08,76.57 219.90,75.40 C219.72,74.23 219.45,73.98 219.10,73.10 C218.75,72.22 218.03,70.88 217.80,70.10 C217.57,69.32 217.73,69.27 217.70,68.40 C217.67,67.53 217.58,66.07 217.60,64.90 C217.62,63.73 217.63,62.57 217.80,61.40 C217.97,60.23 218.22,58.88 218.60,57.90 C218.98,56.92 219.78,56.40 220.10,55.50 C220.42,54.60 220.40,53.57 220.50,52.50 C220.60,51.43 220.53,49.67 220.70,49.10 C220.87,48.53 221.37,49.10 221.50,49.10 Z" fill="#c8102e" stroke="#120606" stroke-width="0.6"/>
<line x1="221.10" y1="49.10" x2="221.10" y2="52.50" stroke="#150707" stroke-width="0.95" stroke-linecap="round"/>
<line x1="221.10" y1="80.10" x2="221.10" y2="88.30" stroke="#150707" stroke-width="0.95" stroke-linecap="round"/>
<line x1="221.10" y1="88.30" x2="221.10" y2="92.40" stroke="#150707" stroke-width="0.95" stroke-linecap="round"/>
<line x1="218.24" y1="62.50" x2="223.96" y2="62.50" stroke="#5a0a14" stroke-width="0.35" stroke-dasharray="0.8 0.6"/>
<line x1="218.18" y1="67.80" x2="224.02" y2="67.80" stroke="#5a0a14" stroke-width="0.35" stroke-dasharray="0.8 0.6"/>
<path d="M233.60,48.50 C233.73,49.48 234.08,52.73 234.40,54.40 C234.72,56.07 235.15,57.23 235.50,58.50 C235.85,59.77 236.42,61.03 236.50,62.00 C236.58,62.97 236.08,63.53 236.00,64.30 C235.92,65.07 235.88,65.82 236.00,66.60 C236.12,67.38 236.63,68.02 236.70,69.00 C236.77,69.98 236.68,71.43 236.40,72.50 C236.12,73.57 235.40,74.33 235.00,75.40 C234.60,76.47 234.22,77.30 234.00,78.90 C233.78,80.50 233.77,82.85 233.70,85.00 C233.63,87.15 233.75,90.67 233.60,91.80 C233.45,92.93 232.95,92.93 232.80,91.80 C232.65,90.67 232.77,87.15 232.70,85.00 C232.63,82.85 232.62,80.50 232.40,78.90 C232.18,77.30 231.80,76.47 231.40,75.40 C231.00,74.33 230.28,73.57 230.00,72.50 C229.72,71.43 229.63,69.98 229.70,69.00 C229.77,68.02 230.28,67.38 230.40,66.60 C230.52,65.82 230.48,65.07 230.40,64.30 C230.32,63.53 229.82,62.97 229.90,62.00 C229.98,61.03 230.55,59.77 230.90,58.50 C231.25,57.23 231.68,56.07 232.00,54.40 C232.32,52.73 232.53,49.48 232.80,48.50 C233.07,47.52 233.47,48.50 233.60,48.50 Z" fill="#c8102e" stroke="#120606" stroke-width="0.6"/>
<line x1="233.20" y1="78.90" x2="233.20" y2="85.00" stroke="#150707" stroke-width="0.95" stroke-linecap="round"/>
<line x1="233.20" y1="85.00" x2="233.20" y2="91.80" stroke="#150707" stroke-width="0.95" stroke-linecap="round"/>
<line x1="230.51" y1="62.50" x2="235.89" y2="62.50" stroke="#5a0a14" stroke-width="0.35" stroke-dasharray="0.8 0.6"/>
<line x1="230.38" y1="68.40" x2="236.02" y2="68.40" stroke="#5a0a14" stroke-width="0.35" stroke-dasharray="0.8 0.6"/>
<line x1="230.79" y1="73.10" x2="235.61" y2="73.10" stroke="#5a0a14" stroke-width="0.35" stroke-dasharray="0.8 0.6"/>
<path d="M245.65,38.30 C245.67,39.25 245.71,42.12 245.75,44.00 C245.79,45.88 245.76,47.57 245.90,49.60 C246.04,51.63 246.32,54.43 246.60,56.20 C246.88,57.97 247.27,58.98 247.60,60.20 C247.93,61.42 248.37,62.28 248.60,63.50 C248.83,64.72 249.02,66.18 249.00,67.50 C248.98,68.82 248.72,69.97 248.50,71.40 C248.28,72.83 247.93,74.43 247.70,76.10 C247.47,77.77 247.30,79.63 247.10,81.40 C246.90,83.17 246.73,84.98 246.50,86.70 C246.27,88.42 245.97,90.87 245.70,91.70 C245.43,92.53 245.17,92.53 244.90,91.70 C244.63,90.87 244.33,88.42 244.10,86.70 C243.87,84.98 243.70,83.17 243.50,81.40 C243.30,79.63 243.13,77.77 242.90,76.10 C242.67,74.43 242.32,72.83 242.10,71.40 C241.88,69.97 241.62,68.82 241.60,67.50 C241.58,66.18 241.77,64.72 242.00,63.50 C242.23,62.28 242.67,61.42 243.00,60.20 C243.33,58.98 243.72,57.97 244.00,56.20 C244.28,54.43 244.56,51.63 244.70,49.60 C244.84,47.57 244.81,45.88 244.85,44.00 C244.89,42.12 244.82,39.25 244.95,38.30 C245.08,37.35 245.53,38.30 245.65,38.30 Z" fill="#c8102e" stroke="#120606" stroke-width="0.6"/>
<line x1="245.30" y1="38.30" x2="245.30" y2="44.00" stroke="#150707" stroke-width="0.95" stroke-linecap="round"/>
<line x1="245.30" y1="44.00" x2="245.30" y2="49.60" stroke="#150707" stroke-width="0.95" stroke-linecap="round"/>
<line x1="242.24" y1="66.10" x2="248.36" y2="66.10" stroke="#5a0a14" stroke-width="0.35" stroke-dasharray="0.8 0.6"/>
<line x1="242.52" y1="70.80" x2="248.08" y2="70.80" stroke="#5a0a14" stroke-width="0.35" stroke-dasharray="0.8 0.6"/>
<line x1="243.84" y1="80.00" x2="246.76" y2="80.00" stroke="#5a0a14" stroke-width="0.35" stroke-dasharray="0.8 0.6"/>
<path d="M257.70,48.20 C257.83,48.65 258.32,50.02 258.50,50.90 C258.68,51.78 258.83,52.62 258.80,53.50 C258.77,54.38 258.43,55.32 258.30,56.20 C258.17,57.08 257.88,57.80 258.00,58.80 C258.12,59.80 258.72,60.98 259.00,62.20 C259.28,63.42 259.45,64.78 259.70,66.10 C259.95,67.42 260.33,69.00 260.50,70.10 C260.67,71.20 260.83,71.82 260.70,72.70 C260.57,73.58 260.08,74.40 259.70,75.40 C259.32,76.40 258.72,77.60 258.40,78.70 C258.08,79.80 257.93,80.57 257.80,82.00 C257.67,83.43 257.77,86.42 257.60,87.30 C257.43,88.18 256.97,88.18 256.80,87.30 C256.63,86.42 256.73,83.43 256.60,82.00 C256.47,80.57 256.32,79.80 256.00,78.70 C255.68,77.60 255.08,76.40 254.70,75.40 C254.32,74.40 253.83,73.58 253.70,72.70 C253.57,71.82 253.73,71.20 253.90,70.10 C254.07,69.00 254.45,67.42 254.70,66.10 C254.95,64.78 255.12,63.42 255.40,62.20 C255.68,60.98 256.28,59.80 256.40,58.80 C256.52,57.80 256.23,57.08 256.10,56.20 C255.97,55.32 255.63,54.38 255.60,53.50 C255.57,52.62 255.72,51.78 255.90,50.90 C256.08,50.02 256.40,48.65 256.70,48.20 C257.00,47.75 257.53,48.20 257.70,48.20 Z" fill="#c8102e" stroke="#120606" stroke-width="0.6"/>
<line x1="257.20" y1="82.00" x2="257.20" y2="87.30" stroke="#150707" stroke-width="0.95" stroke-linecap="round"/>
<line x1="254.35" y1="70.80" x2="260.05" y2="70.80" stroke="#5a0a14" stroke-width="0.35" stroke-dasharray="0.8 0.6"/>
<line x1="254.94" y1="74.70" x2="259.46" y2="74.70" stroke="#5a0a14" stroke-width="0.35" stroke-dasharray="0.8 0.6"/>
<path d="M271.30,57.30 C271.43,57.35 272.03,57.23 272.10,57.60 C272.17,57.97 271.95,58.85 271.70,59.50 C271.45,60.15 270.83,60.83 270.60,61.50 C270.37,62.17 270.15,62.62 270.30,63.50 C270.45,64.38 271.13,65.70 271.50,66.80 C271.87,67.90 272.33,69.00 272.50,70.10 C272.67,71.20 272.57,72.40 272.50,73.40 C272.43,74.40 272.12,75.22 272.10,76.10 C272.08,76.98 272.33,77.82 272.40,78.70 C272.47,79.58 272.58,80.75 272.50,81.40 C272.42,82.05 272.22,82.33 271.90,82.60 C271.58,82.87 271.32,82.93 270.60,83.00 C269.88,83.07 268.32,83.07 267.60,83.00 C266.88,82.93 266.62,82.87 266.30,82.60 C265.98,82.33 265.78,82.05 265.70,81.40 C265.62,80.75 265.73,79.58 265.80,78.70 C265.87,77.82 266.12,76.98 266.10,76.10 C266.08,75.22 265.77,74.40 265.70,73.40 C265.63,72.40 265.53,71.20 265.70,70.10 C265.87,69.00 266.33,67.90 266.70,66.80 C267.07,65.70 267.75,64.38 267.90,63.50 C268.05,62.62 267.83,62.17 267.60,61.50 C267.37,60.83 266.75,60.15 266.50,59.50 C266.25,58.85 266.03,57.97 266.10,57.60 C266.17,57.23 266.03,57.35 266.90,57.30 C267.77,57.25 270.57,57.30 271.30,57.30 Z" fill="#c8102e" stroke="#120606" stroke-width="0.6"/>
<line x1="266.20" y1="72.70" x2="272.00" y2="72.70" stroke="#5a0a14" stroke-width="0.35" stroke-dasharray="0.8 0.6"/>
<line x1="266.38" y1="78.00" x2="271.82" y2="78.00" stroke="#5a0a14" stroke-width="0.35" stroke-dasharray="0.8 0.6"/>
<path d="M281.60,48.20 C281.68,48.65 281.87,49.78 282.10,50.90 C282.33,52.02 282.72,53.58 283.00,54.90 C283.28,56.22 283.55,57.27 283.80,58.80 C284.05,60.33 284.37,62.33 284.50,64.10 C284.63,65.87 284.63,67.63 284.60,69.40 C284.57,71.17 284.53,73.03 284.30,74.70 C284.07,76.37 283.55,77.97 283.20,79.40 C282.85,80.83 282.48,81.98 282.20,83.30 C281.92,84.62 281.78,86.63 281.50,87.30 C281.22,87.97 280.78,87.97 280.50,87.30 C280.22,86.63 280.08,84.62 279.80,83.30 C279.52,81.98 279.15,80.83 278.80,79.40 C278.45,77.97 277.93,76.37 277.70,74.70 C277.47,73.03 277.43,71.17 277.40,69.40 C277.37,67.63 277.37,65.87 277.50,64.10 C277.63,62.33 277.95,60.33 278.20,58.80 C278.45,57.27 278.72,56.22 279.00,54.90 C279.28,53.58 279.67,52.02 279.90,50.90 C280.13,49.78 280.12,48.65 280.40,48.20 C280.68,47.75 281.40,48.20 281.60,48.20 Z" fill="#c8102e" stroke="#120606" stroke-width="0.6"/>
<line x1="278.34" y1="61.50" x2="283.66" y2="61.50" stroke="#5a0a14" stroke-width="0.35" stroke-dasharray="0.8 0.6"/>
<line x1="277.90" y1="69.40" x2="284.10" y2="69.40" stroke="#5a0a14" stroke-width="0.35" stroke-dasharray="0.8 0.6"/>
<line x1="278.20" y1="74.70" x2="283.80" y2="74.70" stroke="#5a0a14" stroke-width="0.35" stroke-dasharray="0.8 0.6"/>
<circle cx="183.55" cy="31.30" r="0.85" fill="#262626" stroke="none" stroke-width="0.3"/>
<circle cx="186.45" cy="31.30" r="0.85" fill="#262626" stroke="none" stroke-width="0.3"/>
<circle cx="194.40" cy="38.50" r="0.85" fill="#262626" stroke="none" stroke-width="0.3"/>
<circle cx="197.30" cy="38.50" r="0.85" fill="#262626" stroke="none" stroke-width="0.3"/>
<circle cx="200.20" cy="38.50" r="0.85" fill="#262626" stroke="none" stroke-width="0.3"/>
<circle cx="206.00" cy="41.80" r="0.85" fill="#262626" stroke="none" stroke-width="0.3"/>
<circle cx="208.90" cy="41.80" r="0.85" fill="#262626" stroke="none" stroke-width="0.3"/>
<circle cx="211.80" cy="41.80" r="0.85" fill="#262626" stroke="none" stroke-width="0.3"/>
<circle cx="207.65" cy="46.50" r="0.85" fill="#262626" stroke="none" stroke-width="0.3"/>
<circle cx="210.55" cy="46.50" r="0.85" fill="#262626" stroke="none" stroke-width="0.3"/>
<circle cx="218.30" cy="41.80" r="0.85" fill="#262626" stroke="none" stroke-width="0.3"/>
<circle cx="221.20" cy="41.80" r="0.85" fill="#262626" stroke="none" stroke-width="0.3"/>
<circle cx="224.10" cy="41.80" r="0.85" fill="#262626" stroke="none" stroke-width="0.3"/>
<circle cx="230.40" cy="37.50" r="0.85" fill="#262626" stroke="none" stroke-width="0.3"/>
<circle cx="233.30" cy="37.50" r="0.85" fill="#262626" stroke="none" stroke-width="0.3"/>
<circle cx="236.20" cy="37.50" r="0.85" fill="#262626" stroke="none" stroke-width="0.3"/>
<circle cx="243.55" cy="31.30" r="0.85" fill="#262626" stroke="none" stroke-width="0.3"/>
<circle cx="246.45" cy="31.30" r="0.85" fill="#262626" stroke="none" stroke-width="0.3"/>
<circle cx="254.40" cy="39.30" r="0.85" fill="#262626" stroke="none" stroke-width="0.3"/>
<circle cx="257.30" cy="39.30" r="0.85" fill="#262626" stroke="none" stroke-width="0.3"/>
<circle cx="260.20" cy="39.30" r="0.85" fill="#262626" stroke="none" stroke-width="0.3"/>
<circle cx="269.30" cy="49.00" r="0.85" fill="#262626" stroke="none" stroke-width="0.3"/>
<circle cx="279.85" cy="39.30" r="0.85" fill="#262626" stroke="none" stroke-width="0.3"/>
<circle cx="282.75" cy="39.30" r="0.85" fill="#262626" stroke="none" stroke-width="0.3"/>
<text x="176.40" y="121.60" font-size="8.97" text-anchor="end" fill="#262626" transform="rotate(-45 176.40 121.60)" textLength="16.47" lengthAdjust="spacingAndGlyphs">HSC</text>
<text x="188.50" y="121.60" font-size="8.97" text-anchor="end" fill="#262626" transform="rotate(-45 188.50 121.60)" textLength="25.14" lengthAdjust="spacingAndGlyphs">Normal</text>
<text x="200.50" y="121.60" font-size="8.97" text-anchor="end" fill="#262626" transform="rotate(-45 200.50 121.60)" textLength="30.78" lengthAdjust="spacingAndGlyphs">Complex</text>
<text x="212.60" y="121.60" font-size="8.97" text-anchor="end" fill="#262626" transform="rotate(-45 212.60 121.60)" textLength="23.84" lengthAdjust="spacingAndGlyphs">inv(16)</text>
<text x="224.50" y="121.60" font-size="8.97" text-anchor="end" fill="#262626" transform="rotate(-45 224.50 121.60)" textLength="26.88" lengthAdjust="spacingAndGlyphs">t(15;17)</text>
<text x="236.60" y="121.60" font-size="8.97" text-anchor="end" fill="#262626" transform="rotate(-45 236.60 121.60)" textLength="22.54" lengthAdjust="spacingAndGlyphs">t(8;21)</text>
<text x="248.30" y="121.60" font-size="8.97" text-anchor="end" fill="#262626" transform="rotate(-45 248.30 121.60)" textLength="45.81" lengthAdjust="spacingAndGlyphs">t(11q23)/MLL</text>
<text x="260.60" y="121.60" font-size="8.97" text-anchor="end" fill="#262626" transform="rotate(-45 260.60 121.60)" textLength="33.94" lengthAdjust="spacingAndGlyphs">Trisomy 8</text>
<text x="272.60" y="121.60" font-size="8.97" text-anchor="end" fill="#262626" transform="rotate(-45 272.60 121.60)" textLength="24.28" lengthAdjust="spacingAndGlyphs">del(5q)</text>
<text x="284.50" y="121.60" font-size="8.97" text-anchor="end" fill="#262626" transform="rotate(-45 284.50 121.60)" textLength="37.72" lengthAdjust="spacingAndGlyphs">del(7q)/7q-</text>
<text x="292.00" y="14.50" font-size="11.00" text-anchor="start" fill="#111" font-weight="bold">C</text>
<text x="345.50" y="55.00" font-size="8.74" text-anchor="start" fill="#3a3a3a" transform="rotate(-90 345.50 55.00)" style="stroke:none" textLength="34.22" lengthAdjust="spacingAndGlyphs">Patient 3#</text>
<text x="361.40" y="55.00" font-size="8.74" text-anchor="start" fill="#3a3a3a" transform="rotate(-90 361.40 55.00)" style="stroke:none" textLength="34.22" lengthAdjust="spacingAndGlyphs">Patient 4#</text>
<text x="377.20" y="55.00" font-size="8.74" text-anchor="start" fill="#3a3a3a" transform="rotate(-90 377.20 55.00)" style="stroke:none" textLength="34.22" lengthAdjust="spacingAndGlyphs">Patient 5#</text>
<text x="393.00" y="55.00" font-size="8.74" text-anchor="start" fill="#3a3a3a" transform="rotate(-90 393.00 55.00)" style="stroke:none" textLength="17.31" lengthAdjust="spacingAndGlyphs">NB-4</text>
<text x="408.60" y="55.00" font-size="8.74" text-anchor="start" fill="#3a3a3a" transform="rotate(-90 408.60 55.00)" style="stroke:none" textLength="20.70" lengthAdjust="spacingAndGlyphs">HL-60</text>
<text x="424.60" y="55.00" font-size="8.74" text-anchor="start" fill="#3a3a3a" transform="rotate(-90 424.60 55.00)" style="stroke:none" textLength="35.90" lengthAdjust="spacingAndGlyphs">KASUMI-1</text>
<text x="441.00" y="55.00" font-size="8.74" text-anchor="start" fill="#3a3a3a" transform="rotate(-90 441.00 55.00)" style="stroke:none" textLength="33.78" lengthAdjust="spacingAndGlyphs">MOLM-13</text>
<text x="456.90" y="55.00" font-size="8.74" text-anchor="start" fill="#3a3a3a" transform="rotate(-90 456.90 55.00)" style="stroke:none" textLength="29.98" lengthAdjust="spacingAndGlyphs">UOC-M1</text>
<text x="472.30" y="55.00" font-size="8.74" text-anchor="start" fill="#3a3a3a" transform="rotate(-90 472.30 55.00)" style="stroke:none" textLength="41.18" lengthAdjust="spacingAndGlyphs">MLL-CD34+</text>
<text x="488.10" y="55.00" font-size="8.74" text-anchor="start" fill="#3a3a3a" transform="rotate(-90 488.10 55.00)" style="stroke:none" textLength="34.43" lengthAdjust="spacingAndGlyphs">CD34+ 1#</text>
<text x="503.80" y="55.00" font-size="8.74" text-anchor="start" fill="#3a3a3a" transform="rotate(-90 503.80 55.00)" style="stroke:none" textLength="34.43" lengthAdjust="spacingAndGlyphs">CD34+ 2#</text>
<rect x="330.00" y="58.20" width="183.20" height="25.40" fill="#acacac" stroke="none" stroke-width="0.5"/>
<rect x="330.00" y="88.00" width="183.20" height="23.90" fill="#b2b2b2" stroke="none" stroke-width="0.5"/>
<text x="327.80" y="73.80" font-size="8.74" text-anchor="end" fill="#262626" textLength="30.40" lengthAdjust="spacingAndGlyphs">YTHDC1</text>
<text x="328.40" y="103.50" font-size="8.74" text-anchor="end" fill="#262626" textLength="32.51" lengthAdjust="spacingAndGlyphs">TUBULIN</text>
<rect x="336.00" y="75" width="13.00" height="8" fill="#777" fill-opacity="0.35" filter="url(#blur2)"/>
<rect x="351.50" y="75" width="13.50" height="8" fill="#777" fill-opacity="0.35" filter="url(#blur2)"/>
<rect x="368.40" y="75" width="13.10" height="8" fill="#777" fill-opacity="0.35" filter="url(#blur2)"/>
<rect x="336.00" y="69.10" width="13.20" height="4.20" rx="2.10" fill="#1a1a1a" fill-opacity="0.95" filter="url(#blur)"/>
<rect x="351.50" y="68.80" width="13.70" height="5.00" rx="2.50" fill="#1a1a1a" fill-opacity="1.00" filter="url(#blur)"/>
<rect x="368.40" y="69.00" width="13.10" height="4.40" rx="2.20" fill="#1a1a1a" fill-opacity="0.95" filter="url(#blur)"/>
<rect x="385.00" y="68.40" width="12.00" height="3.60" rx="1.80" fill="#1a1a1a" fill-opacity="0.90" filter="url(#blur)"/>
<rect x="399.70" y="68.30" width="12.90" height="4.00" rx="2.00" fill="#1a1a1a" fill-opacity="0.92" filter="url(#blur)"/>
<rect x="415.50" y="68.70" width="12.10" height="3.00" rx="1.50" fill="#1a1a1a" fill-opacity="0.62" filter="url(#blur)"/>
<rect x="431.20" y="67.90" width="12.10" height="4.40" rx="2.20" fill="#1a1a1a" fill-opacity="0.98" filter="url(#blur)"/>
<rect x="446.00" y="69.00" width="13.00" height="2.60" rx="1.30" fill="#1a1a1a" fill-opacity="0.50" filter="url(#blur)"/>
<rect x="461.50" y="67.80" width="13.50" height="4.60" rx="2.30" fill="#1a1a1a" fill-opacity="1.00" filter="url(#blur)"/>
<rect x="479.00" y="68.90" width="12.20" height="2.80" rx="1.40" fill="#1a1a1a" fill-opacity="0.50" filter="url(#blur)"/>
<rect x="495.90" y="67.60" width="11.50" height="3.40" rx="1.70" fill="#1a1a1a" fill-opacity="0.85" filter="url(#blur)"/>
<rect x="334.00" y="93.80" width="16.80" height="4.00" rx="2.00" fill="#1a1a1a" fill-opacity="0.95" filter="url(#blur)"/>
<rect x="350.20" y="95.40" width="14.80" height="3.00" rx="1.50" fill="#1a1a1a" fill-opacity="0.90" filter="url(#blur)"/>
<rect x="365.20" y="93.80" width="17.40" height="5.60" rx="2.80" fill="#1a1a1a" fill-opacity="1.00" filter="url(#blur)"/>
<rect x="382.40" y="92.90" width="16.00" height="4.80" rx="2.40" fill="#1a1a1a" fill-opacity="0.95" filter="url(#blur)"/>
<rect x="397.60" y="92.40" width="16.00" height="5.00" rx="2.50" fill="#1a1a1a" fill-opacity="0.98" filter="url(#blur)"/>
<rect x="413.30" y="92.50" width="16.50" height="3.80" rx="1.90" fill="#1a1a1a" fill-opacity="0.95" filter="url(#blur)"/>
<rect x="429.20" y="91.30" width="14.70" height="4.80" rx="2.40" fill="#1a1a1a" fill-opacity="0.98" filter="url(#blur)"/>
<rect x="443.80" y="92.20" width="15.20" height="3.60" rx="1.80" fill="#1a1a1a" fill-opacity="0.95" filter="url(#blur)"/>
<rect x="459.60" y="91.20" width="15.20" height="3.60" rx="1.80" fill="#1a1a1a" fill-opacity="0.92" filter="url(#blur)"/>
<rect x="475.20" y="90.90" width="16.20" height="3.40" rx="1.70" fill="#1a1a1a" fill-opacity="0.92" filter="url(#blur)"/>
<rect x="492.40" y="90.70" width="15.20" height="5.60" rx="2.80" fill="#1a1a1a" fill-opacity="1.00" filter="url(#blur)"/>
<text x="7.20" y="173.20" font-size="11.00" text-anchor="start" fill="#111" font-weight="bold">D</text>
<text x="91.20" y="182.30" font-size="8.74" text-anchor="middle" fill="#262626" textLength="43.49" lengthAdjust="spacingAndGlyphs">YTHDC1-KD</text>
<line x1="69.00" y1="183.90" x2="102.50" y2="183.90" stroke="#98bfdf" stroke-width="1.3"/>
<text x="60.60" y="191.80" font-size="8.74" text-anchor="middle" fill="#262626" textLength="11.40" lengthAdjust="spacingAndGlyphs">Scr</text>
<text x="80.50" y="191.80" font-size="8.74" text-anchor="middle" fill="#262626" textLength="17.32" lengthAdjust="spacingAndGlyphs">Ysh1</text>
<text x="100.60" y="191.80" font-size="8.74" text-anchor="middle" fill="#262626" textLength="17.32" lengthAdjust="spacingAndGlyphs">Ysh2</text>
<rect x="56.30" y="194.50" width="48.70" height="9.10" fill="#b8b8b8" stroke="#808080" stroke-width="0.6"/>
<rect x="56.30" y="205.20" width="48.70" height="8.90" fill="#b9b9b9" stroke="#808080" stroke-width="0.6"/>
<rect x="58.50" y="198.10" width="12.00" height="2.20" rx="1.10" fill="#1a1a1a" fill-opacity="0.75" filter="url(#blur)"/>
<rect x="74.00" y="200.20" width="12.00" height="1.20" rx="0.60" fill="#1a1a1a" fill-opacity="0.12" filter="url(#blur)"/>
<rect x="90.00" y="199.00" width="12.00" height="1.00" rx="0.50" fill="#1a1a1a" fill-opacity="0.08" filter="url(#blur)"/>
<rect x="58.80" y="209.20" width="12.60" height="2.60" rx="1.30" fill="#1a1a1a" fill-opacity="0.92" filter="url(#blur)"/>
<rect x="74.20" y="208.85" width="12.40" height="3.10" rx="1.55" fill="#1a1a1a" fill-opacity="0.95" filter="url(#blur)"/>
<rect x="89.70" y="208.35" width="13.30" height="3.30" rx="1.65" fill="#1a1a1a" fill-opacity="0.95" filter="url(#blur)"/>
<line x1="54.30" y1="196.70" x2="54.30" y2="215.30" stroke="#98bfdf" stroke-width="1.3"/>
<text x="50.30" y="210.00" font-size="8.74" text-anchor="end" fill="#262626" textLength="17.31" lengthAdjust="spacingAndGlyphs">NB-4</text>
<text x="108.20" y="203.70" font-size="8.74" text-anchor="start" fill="#262626" textLength="30.40" lengthAdjust="spacingAndGlyphs">YTHDC1</text>
<text x="108.20" y="214.50" font-size="8.74" text-anchor="start" fill="#262626" textLength="22.80" lengthAdjust="spacingAndGlyphs">ACTIN</text>
<rect x="56.30" y="220.00" width="48.70" height="8.80" fill="#b8b8b8" stroke="#808080" stroke-width="0.6"/>
<rect x="56.30" y="231.00" width="48.70" height="8.90" fill="#b9b9b9" stroke="#808080" stroke-width="0.6"/>
<rect x="57.50" y="223.70" width="12.50" height="1.80" rx="0.90" fill="#1a1a1a" fill-opacity="0.45" filter="url(#blur)"/>
<rect x="74.00" y="224.00" width="12.00" height="1.00" rx="0.50" fill="#1a1a1a" fill-opacity="0.06" filter="url(#blur)"/>
<rect x="90.00" y="224.00" width="12.00" height="1.00" rx="0.50" fill="#1a1a1a" fill-opacity="0.08" filter="url(#blur)"/>
<rect x="57.40" y="235.00" width="12.60" height="2.60" rx="1.30" fill="#1a1a1a" fill-opacity="0.92" filter="url(#blur)"/>
<rect x="73.80" y="234.00" width="12.20" height="2.60" rx="1.30" fill="#1a1a1a" fill-opacity="0.92" filter="url(#blur)"/>
<rect x="89.80" y="233.10" width="14.00" height="3.00" rx="1.50" fill="#1a1a1a" fill-opacity="0.95" filter="url(#blur)"/>
<line x1="54.30" y1="222.20" x2="54.30" y2="241.10" stroke="#98bfdf" stroke-width="1.3"/>
<text x="50.30" y="233.80" font-size="8.74" text-anchor="end" fill="#262626" textLength="35.90" lengthAdjust="spacingAndGlyphs">KASUMI-1</text>
<text x="108.20" y="228.70" font-size="8.74" text-anchor="start" fill="#262626" textLength="30.40" lengthAdjust="spacingAndGlyphs">YTHDC1</text>
<text x="108.20" y="238.70" font-size="8.74" text-anchor="start" fill="#262626" textLength="22.80" lengthAdjust="spacingAndGlyphs">ACTIN</text>
<rect x="56.30" y="245.20" width="48.20" height="8.70" fill="#b8b8b8" stroke="#808080" stroke-width="0.6"/>
<rect x="56.30" y="256.10" width="48.20" height="8.80" fill="#b9b9b9" stroke="#808080" stroke-width="0.6"/>
<rect x="57.50" y="249.00" width="12.00" height="1.60" rx="0.80" fill="#1a1a1a" fill-opacity="0.35" filter="url(#blur)"/>
<rect x="74.00" y="249.40" width="12.00" height="1.20" rx="0.60" fill="#1a1a1a" fill-opacity="0.12" filter="url(#blur)"/>
<rect x="90.00" y="249.50" width="12.00" height="1.00" rx="0.50" fill="#1a1a1a" fill-opacity="0.06" filter="url(#blur)"/>
<rect x="58.00" y="258.90" width="16.00" height="2.80" rx="1.40" fill="#1a1a1a" fill-opacity="0.85" filter="url(#blur)"/>
<rect x="73.60" y="259.00" width="15.40" height="2.80" rx="1.40" fill="#1a1a1a" fill-opacity="0.80" filter="url(#blur)"/>
<rect x="88.60" y="258.90" width="15.20" height="2.80" rx="1.40" fill="#1a1a1a" fill-opacity="0.85" filter="url(#blur)"/>
<line x1="54.30" y1="247.40" x2="54.30" y2="266.10" stroke="#98bfdf" stroke-width="1.3"/>
<text x="50.30" y="255.40" font-size="8.74" text-anchor="end" fill="#262626" textLength="33.78" lengthAdjust="spacingAndGlyphs">MOLM-13</text>
<text x="108.20" y="250.80" font-size="8.74" text-anchor="start" fill="#262626" textLength="30.40" lengthAdjust="spacingAndGlyphs">YTHDC1</text>
<text x="108.20" y="262.00" font-size="8.74" text-anchor="start" fill="#262626" textLength="22.80" lengthAdjust="spacingAndGlyphs">ACTIN</text>
<line x1="192.50" y1="182.30" x2="192.50" y2="253.90" stroke="#2a2a2a" stroke-width="1.1"/>
<line x1="192.00" y1="253.40" x2="268.00" y2="253.40" stroke="#2a2a2a" stroke-width="1.1"/>
<line x1="189.20" y1="253.40" x2="192.50" y2="253.40" stroke="#2a2a2a" stroke-width="1.0"/>
<text x="186.50" y="256.20" font-size="9.66" text-anchor="end" fill="#262626" textLength="4.67" lengthAdjust="spacingAndGlyphs">0</text>
<line x1="189.20" y1="235.75" x2="192.50" y2="235.75" stroke="#2a2a2a" stroke-width="1.0"/>
<text x="186.50" y="238.55" font-size="9.66" text-anchor="end" fill="#262626" textLength="9.34" lengthAdjust="spacingAndGlyphs">10</text>
<line x1="189.20" y1="218.10" x2="192.50" y2="218.10" stroke="#2a2a2a" stroke-width="1.0"/>
<text x="186.50" y="220.90" font-size="9.66" text-anchor="end" fill="#262626" textLength="9.34" lengthAdjust="spacingAndGlyphs">20</text>
<line x1="189.20" y1="200.45" x2="192.50" y2="200.45" stroke="#2a2a2a" stroke-width="1.0"/>
<text x="186.50" y="203.25" font-size="9.66" text-anchor="end" fill="#262626" textLength="9.34" lengthAdjust="spacingAndGlyphs">30</text>
<line x1="189.20" y1="182.80" x2="192.50" y2="182.80" stroke="#2a2a2a" stroke-width="1.0"/>
<text x="186.50" y="185.60" font-size="9.66" text-anchor="end" fill="#262626" textLength="9.34" lengthAdjust="spacingAndGlyphs">40</text>
<line x1="210.90" y1="253.40" x2="210.90" y2="256.40" stroke="#2a2a2a" stroke-width="1.0"/>
<line x1="230.00" y1="253.40" x2="230.00" y2="256.40" stroke="#2a2a2a" stroke-width="1.0"/>
<line x1="248.80" y1="253.40" x2="248.80" y2="256.40" stroke="#2a2a2a" stroke-width="1.0"/>
<line x1="267.60" y1="253.40" x2="267.60" y2="256.40" stroke="#2a2a2a" stroke-width="1.0"/>
<text x="201.50" y="264.00" font-size="8.28" text-anchor="middle" fill="#262626" textLength="16.81" lengthAdjust="spacingAndGlyphs">Day1</text>
<text x="221.00" y="264.00" font-size="8.28" text-anchor="middle" fill="#262626" textLength="16.81" lengthAdjust="spacingAndGlyphs">Day3</text>
<text x="239.80" y="264.00" font-size="8.28" text-anchor="middle" fill="#262626" textLength="16.81" lengthAdjust="spacingAndGlyphs">Day5</text>
<text x="259.40" y="264.00" font-size="8.28" text-anchor="middle" fill="#262626" textLength="16.81" lengthAdjust="spacingAndGlyphs">Day7</text>
<polyline points="201.50,251.64 220.30,248.46 240.00,216.34 258.80,191.62" fill="none" stroke="#c8163a" stroke-width="1.3" stroke-linejoin="round"/>
<line x1="220.30" y1="248.46" x2="220.30" y2="247.93" stroke="#333" stroke-width="0.6"/>
<line x1="219.40" y1="247.93" x2="221.20" y2="247.93" stroke="#333" stroke-width="0.6"/>
<line x1="240.00" y1="216.34" x2="240.00" y2="214.22" stroke="#333" stroke-width="0.6"/>
<line x1="239.10" y1="214.22" x2="240.90" y2="214.22" stroke="#333" stroke-width="0.6"/>
<line x1="258.80" y1="191.62" x2="258.80" y2="190.21" stroke="#333" stroke-width="0.6"/>
<line x1="257.90" y1="190.21" x2="259.70" y2="190.21" stroke="#333" stroke-width="0.6"/>
<polyline points="201.50,251.64 220.30,251.11 240.00,252.52 258.80,251.81" fill="none" stroke="#1b4f8b" stroke-width="1.3" stroke-linejoin="round"/>
<polyline points="201.50,252.52 220.30,252.34 240.00,252.87 258.80,252.87" fill="none" stroke="#3cb54a" stroke-width="1.3" stroke-linejoin="round"/>
<text x="202.00" y="177.60" font-size="9.43" text-anchor="start" fill="#262626" textLength="36.45" lengthAdjust="spacingAndGlyphs">MOLM-13</text>
<line x1="202.00" y1="185.50" x2="211.00" y2="185.50" stroke="#c8163a" stroke-width="1.6"/>
<text x="213.00" y="188.20" font-size="8.74" text-anchor="start" fill="#262626" textLength="11.40" lengthAdjust="spacingAndGlyphs">Scr</text>
<line x1="202.00" y1="194.60" x2="211.00" y2="194.60" stroke="#1b4f8b" stroke-width="1.6"/>
<text x="213.00" y="197.30" font-size="8.74" text-anchor="start" fill="#262626" textLength="21.55" lengthAdjust="spacingAndGlyphs">Ysh1#</text>
<line x1="202.00" y1="203.70" x2="211.00" y2="203.70" stroke="#3cb54a" stroke-width="1.6"/>
<text x="213.00" y="206.40" font-size="8.74" text-anchor="start" fill="#262626" textLength="21.55" lengthAdjust="spacingAndGlyphs">Ysh2#</text>
<text x="170.90" y="214.00" font-size="8.20" text-anchor="middle" fill="#262626" transform="rotate(-90 170.90 214.00)" textLength="37.00" lengthAdjust="spacingAndGlyphs">Cell# &#215;10<tspan font-size="6.2" dy="-3.4">6</tspan></text>
<text x="160.60" y="173.10" font-size="11.00" text-anchor="start" fill="#111" font-weight="bold">E</text>
<circle cx="257.60" cy="243.40" r="0.85" fill="#262626" stroke="none" stroke-width="0.3"/>
<circle cx="260.50" cy="243.40" r="0.85" fill="#262626" stroke="none" stroke-width="0.3"/>
<circle cx="263.40" cy="243.40" r="0.85" fill="#262626" stroke="none" stroke-width="0.3"/>
<circle cx="256.60" cy="247.00" r="0.85" fill="#262626" stroke="none" stroke-width="0.3"/>
<circle cx="259.50" cy="247.00" r="0.85" fill="#262626" stroke="none" stroke-width="0.3"/>
<circle cx="262.40" cy="247.00" r="0.85" fill="#262626" stroke="none" stroke-width="0.3"/>
<line x1="299.10" y1="182.60" x2="299.10" y2="253.90" stroke="#2a2a2a" stroke-width="1.1"/>
<line x1="298.60" y1="253.40" x2="380.00" y2="253.40" stroke="#2a2a2a" stroke-width="1.1"/>
<line x1="295.80" y1="253.40" x2="299.10" y2="253.40" stroke="#2a2a2a" stroke-width="1.0"/>
<text x="293.10" y="256.20" font-size="8.74" text-anchor="end" fill="#262626" textLength="4.23" lengthAdjust="spacingAndGlyphs">0</text>
<line x1="295.80" y1="239.34" x2="299.10" y2="239.34" stroke="#2a2a2a" stroke-width="1.0"/>
<text x="293.10" y="242.14" font-size="8.74" text-anchor="end" fill="#262626" textLength="4.23" lengthAdjust="spacingAndGlyphs">1</text>
<line x1="295.80" y1="225.28" x2="299.10" y2="225.28" stroke="#2a2a2a" stroke-width="1.0"/>
<text x="293.10" y="228.08" font-size="8.74" text-anchor="end" fill="#262626" textLength="4.23" lengthAdjust="spacingAndGlyphs">2</text>
<line x1="295.80" y1="211.22" x2="299.10" y2="211.22" stroke="#2a2a2a" stroke-width="1.0"/>
<text x="293.10" y="214.02" font-size="8.74" text-anchor="end" fill="#262626" textLength="4.23" lengthAdjust="spacingAndGlyphs">3</text>
<line x1="295.80" y1="197.16" x2="299.10" y2="197.16" stroke="#2a2a2a" stroke-width="1.0"/>
<text x="293.10" y="199.96" font-size="8.74" text-anchor="end" fill="#262626" textLength="4.23" lengthAdjust="spacingAndGlyphs">4</text>
<line x1="295.80" y1="183.10" x2="299.10" y2="183.10" stroke="#2a2a2a" stroke-width="1.0"/>
<text x="293.10" y="185.90" font-size="8.74" text-anchor="end" fill="#262626" textLength="4.23" lengthAdjust="spacingAndGlyphs">5</text>
<line x1="319.20" y1="253.40" x2="319.20" y2="256.40" stroke="#2a2a2a" stroke-width="1.0"/>
<line x1="337.60" y1="253.40" x2="337.60" y2="256.40" stroke="#2a2a2a" stroke-width="1.0"/>
<line x1="356.60" y1="253.40" x2="356.60" y2="256.40" stroke="#2a2a2a" stroke-width="1.0"/>
<line x1="379.60" y1="253.40" x2="379.60" y2="256.40" stroke="#2a2a2a" stroke-width="1.0"/>
<text x="309.80" y="264.00" font-size="8.28" text-anchor="middle" fill="#262626" textLength="16.81" lengthAdjust="spacingAndGlyphs">Day1</text>
<text x="329.00" y="264.00" font-size="8.28" text-anchor="middle" fill="#262626" textLength="16.81" lengthAdjust="spacingAndGlyphs">Day3</text>
<text x="348.80" y="264.00" font-size="8.28" text-anchor="middle" fill="#262626" textLength="16.81" lengthAdjust="spacingAndGlyphs">Day5</text>
<text x="372.20" y="264.00" font-size="8.28" text-anchor="middle" fill="#262626" textLength="16.81" lengthAdjust="spacingAndGlyphs">Day7</text>
<polyline points="309.30,245.95 329.30,239.34 349.60,228.23 369.40,192.66" fill="none" stroke="#c8163a" stroke-width="1.3" stroke-linejoin="round"/>
<line x1="329.30" y1="239.34" x2="329.30" y2="238.64" stroke="#333" stroke-width="0.6"/>
<line x1="328.40" y1="238.64" x2="330.20" y2="238.64" stroke="#333" stroke-width="0.6"/>
<line x1="349.60" y1="228.23" x2="349.60" y2="227.11" stroke="#333" stroke-width="0.6"/>
<line x1="348.70" y1="227.11" x2="350.50" y2="227.11" stroke="#333" stroke-width="0.6"/>
<line x1="369.40" y1="192.66" x2="369.40" y2="188.44" stroke="#333" stroke-width="0.6"/>
<line x1="368.50" y1="188.44" x2="370.30" y2="188.44" stroke="#333" stroke-width="0.6"/>
<polyline points="309.30,245.95 329.30,242.57 349.60,238.64 369.40,224.16" fill="none" stroke="#1b4f8b" stroke-width="1.3" stroke-linejoin="round"/>
<line x1="329.30" y1="242.57" x2="329.30" y2="242.15" stroke="#333" stroke-width="0.6"/>
<line x1="328.40" y1="242.15" x2="330.20" y2="242.15" stroke="#333" stroke-width="0.6"/>
<line x1="349.60" y1="238.64" x2="349.60" y2="237.65" stroke="#333" stroke-width="0.6"/>
<line x1="348.70" y1="237.65" x2="350.50" y2="237.65" stroke="#333" stroke-width="0.6"/>
<line x1="369.40" y1="224.16" x2="369.40" y2="222.75" stroke="#333" stroke-width="0.6"/>
<line x1="368.50" y1="222.75" x2="370.30" y2="222.75" stroke="#333" stroke-width="0.6"/>
<polyline points="309.30,246.37 329.30,242.57 349.60,240.75 369.40,228.51" fill="none" stroke="#3cb54a" stroke-width="1.3" stroke-linejoin="round"/>
<line x1="349.60" y1="240.75" x2="349.60" y2="240.18" stroke="#333" stroke-width="0.6"/>
<line x1="348.70" y1="240.18" x2="350.50" y2="240.18" stroke="#333" stroke-width="0.6"/>
<line x1="369.40" y1="228.51" x2="369.40" y2="227.39" stroke="#333" stroke-width="0.6"/>
<line x1="368.50" y1="227.39" x2="370.30" y2="227.39" stroke="#333" stroke-width="0.6"/>
<text x="315.00" y="177.40" font-size="9.43" text-anchor="start" fill="#262626" textLength="38.73" lengthAdjust="spacingAndGlyphs">KASUMI-1</text>
<line x1="312.40" y1="185.70" x2="321.40" y2="185.70" stroke="#c8163a" stroke-width="1.6"/>
<text x="323.40" y="188.40" font-size="8.74" text-anchor="start" fill="#262626" textLength="11.40" lengthAdjust="spacingAndGlyphs">Scr</text>
<line x1="312.40" y1="195.00" x2="321.40" y2="195.00" stroke="#1b4f8b" stroke-width="1.6"/>
<text x="323.40" y="197.70" font-size="8.74" text-anchor="start" fill="#262626" textLength="21.55" lengthAdjust="spacingAndGlyphs">Ysh1#</text>
<line x1="312.40" y1="204.30" x2="321.40" y2="204.30" stroke="#3cb54a" stroke-width="1.6"/>
<text x="323.40" y="207.00" font-size="8.74" text-anchor="start" fill="#262626" textLength="21.55" lengthAdjust="spacingAndGlyphs">Ysh2#</text>
<text x="282.90" y="212.50" font-size="8.20" text-anchor="middle" fill="#262626" transform="rotate(-90 282.90 212.50)" textLength="37.00" lengthAdjust="spacingAndGlyphs">Cell# &#215;10<tspan font-size="6.2" dy="-3.4">6</tspan></text>
<text x="270.20" y="173.50" font-size="11.00" text-anchor="start" fill="#111" font-weight="bold">F</text>
<circle cx="372.70" cy="221.50" r="0.85" fill="#262626" stroke="none" stroke-width="0.3"/>
<circle cx="375.60" cy="221.50" r="0.85" fill="#262626" stroke="none" stroke-width="0.3"/>
<circle cx="378.50" cy="221.50" r="0.85" fill="#262626" stroke="none" stroke-width="0.3"/>
<circle cx="373.90" cy="228.30" r="0.85" fill="#262626" stroke="none" stroke-width="0.3"/>
<circle cx="376.80" cy="228.30" r="0.85" fill="#262626" stroke="none" stroke-width="0.3"/>
<circle cx="379.70" cy="228.30" r="0.85" fill="#262626" stroke="none" stroke-width="0.3"/>
<line x1="421.20" y1="181.80" x2="421.20" y2="254.00" stroke="#2a2a2a" stroke-width="1.1"/>
<line x1="420.70" y1="253.50" x2="510.80" y2="253.50" stroke="#2a2a2a" stroke-width="1.1"/>
<line x1="417.90" y1="253.50" x2="421.20" y2="253.50" stroke="#2a2a2a" stroke-width="1.0"/>
<text x="415.20" y="256.30" font-size="8.74" text-anchor="end" fill="#262626" textLength="4.23" lengthAdjust="spacingAndGlyphs">0</text>
<line x1="417.90" y1="229.77" x2="421.20" y2="229.77" stroke="#2a2a2a" stroke-width="1.0"/>
<text x="415.20" y="232.57" font-size="8.74" text-anchor="end" fill="#262626" textLength="4.23" lengthAdjust="spacingAndGlyphs">5</text>
<line x1="417.90" y1="206.03" x2="421.20" y2="206.03" stroke="#2a2a2a" stroke-width="1.0"/>
<text x="415.20" y="208.83" font-size="8.74" text-anchor="end" fill="#262626" textLength="8.45" lengthAdjust="spacingAndGlyphs">10</text>
<line x1="417.90" y1="182.30" x2="421.20" y2="182.30" stroke="#2a2a2a" stroke-width="1.0"/>
<text x="415.20" y="185.10" font-size="8.74" text-anchor="end" fill="#262626" textLength="8.45" lengthAdjust="spacingAndGlyphs">15</text>
<line x1="444.40" y1="253.50" x2="444.40" y2="256.50" stroke="#2a2a2a" stroke-width="1.0"/>
<line x1="466.90" y1="253.50" x2="466.90" y2="256.50" stroke="#2a2a2a" stroke-width="1.0"/>
<line x1="488.60" y1="253.50" x2="488.60" y2="256.50" stroke="#2a2a2a" stroke-width="1.0"/>
<line x1="510.80" y1="253.50" x2="510.80" y2="256.50" stroke="#2a2a2a" stroke-width="1.0"/>
<text x="432.50" y="264.00" font-size="8.28" text-anchor="middle" fill="#262626" textLength="16.81" lengthAdjust="spacingAndGlyphs">Day1</text>
<text x="454.80" y="264.00" font-size="8.28" text-anchor="middle" fill="#262626" textLength="16.81" lengthAdjust="spacingAndGlyphs">Day3</text>
<text x="476.90" y="264.00" font-size="8.28" text-anchor="middle" fill="#262626" textLength="16.81" lengthAdjust="spacingAndGlyphs">Day5</text>
<text x="499.00" y="264.00" font-size="8.28" text-anchor="middle" fill="#262626" textLength="16.81" lengthAdjust="spacingAndGlyphs">Day7</text>
<polyline points="432.00,252.08 457.00,247.57 477.60,231.67 499.70,188.95" fill="none" stroke="#c8163a" stroke-width="1.3" stroke-linejoin="round"/>
<line x1="477.60" y1="231.67" x2="477.60" y2="230.95" stroke="#333" stroke-width="0.6"/>
<line x1="476.70" y1="230.95" x2="478.50" y2="230.95" stroke="#333" stroke-width="0.6"/>
<line x1="499.70" y1="188.95" x2="499.70" y2="185.15" stroke="#333" stroke-width="0.6"/>
<line x1="498.80" y1="185.15" x2="500.60" y2="185.15" stroke="#333" stroke-width="0.6"/>
<polyline points="432.00,252.08 457.00,247.57 477.60,244.72 499.70,229.77" fill="none" stroke="#1b4f8b" stroke-width="1.3" stroke-linejoin="round"/>
<line x1="477.60" y1="244.72" x2="477.60" y2="244.24" stroke="#333" stroke-width="0.6"/>
<line x1="476.70" y1="244.24" x2="478.50" y2="244.24" stroke="#333" stroke-width="0.6"/>
<line x1="499.70" y1="229.77" x2="499.70" y2="227.39" stroke="#333" stroke-width="0.6"/>
<line x1="498.80" y1="227.39" x2="500.60" y2="227.39" stroke="#333" stroke-width="0.6"/>
<polyline points="432.00,252.08 457.00,252.41 477.60,249.70 499.70,240.21" fill="none" stroke="#3cb54a" stroke-width="1.3" stroke-linejoin="round"/>
<line x1="477.60" y1="249.70" x2="477.60" y2="249.47" stroke="#333" stroke-width="0.6"/>
<line x1="476.70" y1="249.47" x2="478.50" y2="249.47" stroke="#333" stroke-width="0.6"/>
<line x1="499.70" y1="240.21" x2="499.70" y2="239.26" stroke="#333" stroke-width="0.6"/>
<line x1="498.80" y1="239.26" x2="500.60" y2="239.26" stroke="#333" stroke-width="0.6"/>
<text x="457.20" y="177.50" font-size="9.43" text-anchor="start" fill="#262626" textLength="18.68" lengthAdjust="spacingAndGlyphs">NB-4</text>
<line x1="431.10" y1="188.30" x2="440.10" y2="188.30" stroke="#c8163a" stroke-width="1.6"/>
<text x="442.10" y="191.00" font-size="8.74" text-anchor="start" fill="#262626" textLength="11.40" lengthAdjust="spacingAndGlyphs">Scr</text>
<line x1="431.10" y1="197.20" x2="440.10" y2="197.20" stroke="#1b4f8b" stroke-width="1.6"/>
<text x="442.10" y="199.90" font-size="8.74" text-anchor="start" fill="#262626" textLength="21.55" lengthAdjust="spacingAndGlyphs">Ysh1#</text>
<line x1="431.10" y1="206.10" x2="440.10" y2="206.10" stroke="#3cb54a" stroke-width="1.6"/>
<text x="442.10" y="208.80" font-size="8.74" text-anchor="start" fill="#262626" textLength="21.55" lengthAdjust="spacingAndGlyphs">Ysh2#</text>
<text x="404.30" y="210.00" font-size="8.20" text-anchor="middle" fill="#262626" transform="rotate(-90 404.30 210.00)" textLength="37.00" lengthAdjust="spacingAndGlyphs">Cell# &#215;10<tspan font-size="6.2" dy="-3.4">6</tspan></text>
<text x="394.00" y="173.70" font-size="11.00" text-anchor="start" fill="#111" font-weight="bold">G</text>
<circle cx="501.90" cy="223.70" r="0.85" fill="#262626" stroke="none" stroke-width="0.3"/>
<circle cx="504.80" cy="223.70" r="0.85" fill="#262626" stroke="none" stroke-width="0.3"/>
<circle cx="507.70" cy="223.70" r="0.85" fill="#262626" stroke="none" stroke-width="0.3"/>
<circle cx="504.10" cy="239.20" r="0.85" fill="#262626" stroke="none" stroke-width="0.3"/>
<circle cx="507.00" cy="239.20" r="0.85" fill="#262626" stroke="none" stroke-width="0.3"/>
<circle cx="509.90" cy="239.20" r="0.85" fill="#262626" stroke="none" stroke-width="0.3"/>
<rect x="41.40" y="412.21" width="6.20" height="5.59" fill="#c8163a" stroke="#3a1a1a" stroke-width="0.4"/>
<line x1="44.50" y1="412.21" x2="44.50" y2="411.32" stroke="#2a2a2a" stroke-width="0.65"/>
<line x1="43.50" y1="411.32" x2="45.50" y2="411.32" stroke="#222" stroke-width="0.75"/>
<rect x="49.70" y="356.58" width="6.20" height="61.22" fill="#1b4f8b" stroke="#0f2a4a" stroke-width="0.4"/>
<line x1="52.80" y1="356.58" x2="52.80" y2="345.10" stroke="#2a2a2a" stroke-width="0.65"/>
<line x1="51.80" y1="345.10" x2="53.80" y2="345.10" stroke="#222" stroke-width="0.75"/>
<rect x="57.90" y="386.31" width="6.20" height="31.49" fill="#3cb54a" stroke="#1f5a26" stroke-width="0.4"/>
<line x1="61.00" y1="386.31" x2="61.00" y2="381.30" stroke="#2a2a2a" stroke-width="0.65"/>
<line x1="60.00" y1="381.30" x2="62.00" y2="381.30" stroke="#222" stroke-width="0.75"/>
<rect x="78.20" y="409.26" width="6.20" height="8.54" fill="#c8163a" stroke="#3a1a1a" stroke-width="0.4"/>
<line x1="81.30" y1="409.26" x2="81.30" y2="408.68" stroke="#2a2a2a" stroke-width="0.65"/>
<line x1="80.30" y1="408.68" x2="82.30" y2="408.68" stroke="#222" stroke-width="0.75"/>
<rect x="86.20" y="378.95" width="6.20" height="38.85" fill="#1b4f8b" stroke="#0f2a4a" stroke-width="0.4"/>
<line x1="89.30" y1="378.95" x2="89.30" y2="377.18" stroke="#2a2a2a" stroke-width="0.65"/>
<line x1="88.30" y1="377.18" x2="90.30" y2="377.18" stroke="#222" stroke-width="0.75"/>
<rect x="94.50" y="358.34" width="6.20" height="59.46" fill="#3cb54a" stroke="#1f5a26" stroke-width="0.4"/>
<line x1="97.60" y1="358.34" x2="97.60" y2="356.58" stroke="#2a2a2a" stroke-width="0.65"/>
<line x1="96.60" y1="356.58" x2="98.60" y2="356.58" stroke="#222" stroke-width="0.75"/>
<rect x="114.70" y="403.08" width="6.20" height="14.72" fill="#c8163a" stroke="#3a1a1a" stroke-width="0.4"/>
<line x1="117.80" y1="403.08" x2="117.80" y2="402.49" stroke="#2a2a2a" stroke-width="0.65"/>
<line x1="116.80" y1="402.49" x2="118.80" y2="402.49" stroke="#222" stroke-width="0.75"/>
<rect x="122.70" y="383.07" width="6.20" height="34.73" fill="#1b4f8b" stroke="#0f2a4a" stroke-width="0.4"/>
<line x1="125.80" y1="383.07" x2="125.80" y2="381.60" stroke="#2a2a2a" stroke-width="0.65"/>
<line x1="124.80" y1="381.60" x2="126.80" y2="381.60" stroke="#222" stroke-width="0.75"/>
<rect x="130.90" y="388.96" width="6.20" height="28.84" fill="#3cb54a" stroke="#1f5a26" stroke-width="0.4"/>
<line x1="134.00" y1="388.96" x2="134.00" y2="388.07" stroke="#2a2a2a" stroke-width="0.65"/>
<line x1="133.00" y1="388.07" x2="135.00" y2="388.07" stroke="#222" stroke-width="0.75"/>
<line x1="34.50" y1="329.00" x2="34.50" y2="418.30" stroke="#2a2a2a" stroke-width="1.1"/>
<line x1="34.00" y1="417.80" x2="141.00" y2="417.80" stroke="#2a2a2a" stroke-width="1.1"/>
<line x1="31.20" y1="417.80" x2="34.50" y2="417.80" stroke="#2a2a2a" stroke-width="1.0"/>
<text x="28.70" y="420.60" font-size="8.74" text-anchor="end" fill="#262626" textLength="4.23" lengthAdjust="spacingAndGlyphs">0</text>
<line x1="31.20" y1="403.08" x2="34.50" y2="403.08" stroke="#2a2a2a" stroke-width="1.0"/>
<text x="28.70" y="405.88" font-size="8.74" text-anchor="end" fill="#262626" textLength="4.23" lengthAdjust="spacingAndGlyphs">5</text>
<line x1="31.20" y1="388.37" x2="34.50" y2="388.37" stroke="#2a2a2a" stroke-width="1.0"/>
<text x="28.70" y="391.17" font-size="8.74" text-anchor="end" fill="#262626" textLength="8.45" lengthAdjust="spacingAndGlyphs">10</text>
<line x1="31.20" y1="373.65" x2="34.50" y2="373.65" stroke="#2a2a2a" stroke-width="1.0"/>
<text x="28.70" y="376.45" font-size="8.74" text-anchor="end" fill="#262626" textLength="8.45" lengthAdjust="spacingAndGlyphs">15</text>
<line x1="31.20" y1="358.93" x2="34.50" y2="358.93" stroke="#2a2a2a" stroke-width="1.0"/>
<text x="28.70" y="361.73" font-size="8.74" text-anchor="end" fill="#262626" textLength="8.45" lengthAdjust="spacingAndGlyphs">20</text>
<line x1="31.20" y1="344.22" x2="34.50" y2="344.22" stroke="#2a2a2a" stroke-width="1.0"/>
<text x="28.70" y="347.02" font-size="8.74" text-anchor="end" fill="#262626" textLength="8.45" lengthAdjust="spacingAndGlyphs">25</text>
<line x1="31.20" y1="329.50" x2="34.50" y2="329.50" stroke="#2a2a2a" stroke-width="1.0"/>
<text x="28.70" y="332.30" font-size="8.74" text-anchor="end" fill="#262626" textLength="8.45" lengthAdjust="spacingAndGlyphs">30</text>
<circle cx="50.80" cy="341.40" r="0.85" fill="#262626" stroke="none" stroke-width="0.3"/>
<circle cx="53.70" cy="341.40" r="0.85" fill="#262626" stroke="none" stroke-width="0.3"/>
<circle cx="56.60" cy="341.40" r="0.85" fill="#262626" stroke="none" stroke-width="0.3"/>
<circle cx="61.10" cy="368.40" r="0.85" fill="#262626" stroke="none" stroke-width="0.3"/>
<circle cx="64.00" cy="368.40" r="0.85" fill="#262626" stroke="none" stroke-width="0.3"/>
<circle cx="66.90" cy="368.40" r="0.85" fill="#262626" stroke="none" stroke-width="0.3"/>
<circle cx="82.50" cy="366.00" r="0.85" fill="#262626" stroke="none" stroke-width="0.3"/>
<circle cx="85.40" cy="366.00" r="0.85" fill="#262626" stroke="none" stroke-width="0.3"/>
<circle cx="88.30" cy="366.00" r="0.85" fill="#262626" stroke="none" stroke-width="0.3"/>
<circle cx="94.50" cy="351.50" r="0.85" fill="#262626" stroke="none" stroke-width="0.3"/>
<circle cx="97.40" cy="351.50" r="0.85" fill="#262626" stroke="none" stroke-width="0.3"/>
<circle cx="100.30" cy="351.50" r="0.85" fill="#262626" stroke="none" stroke-width="0.3"/>
<circle cx="121.70" cy="373.90" r="0.85" fill="#262626" stroke="none" stroke-width="0.3"/>
<circle cx="124.60" cy="373.90" r="0.85" fill="#262626" stroke="none" stroke-width="0.3"/>
<circle cx="127.50" cy="373.90" r="0.85" fill="#262626" stroke="none" stroke-width="0.3"/>
<circle cx="131.80" cy="378.70" r="0.85" fill="#262626" stroke="none" stroke-width="0.3"/>
<circle cx="134.70" cy="378.70" r="0.85" fill="#262626" stroke="none" stroke-width="0.3"/>
<circle cx="137.60" cy="378.70" r="0.85" fill="#262626" stroke="none" stroke-width="0.3"/>
<text x="12.90" y="376.50" font-size="8.74" text-anchor="middle" fill="#262626" transform="rotate(-90 12.90 376.50)" textLength="39.29" lengthAdjust="spacingAndGlyphs">%apoptosis</text>
<text x="7.00" y="315.20" font-size="11.00" text-anchor="start" fill="#111" font-weight="bold">H</text>
<rect x="42.40" y="324.80" width="4.00" height="4.00" fill="#c8163a" stroke="#333" stroke-width="0.2"/>
<text x="47.60" y="329.50" font-size="8.28" text-anchor="start" fill="#262626" textLength="10.80" lengthAdjust="spacingAndGlyphs">Scr</text>
<rect x="64.80" y="324.80" width="4.00" height="4.00" fill="#1b4f8b" stroke="#333" stroke-width="0.2"/>
<text x="70.00" y="329.50" font-size="8.28" text-anchor="start" fill="#262626" textLength="20.41" lengthAdjust="spacingAndGlyphs">Ysh1#</text>
<rect x="96.80" y="324.80" width="4.00" height="4.00" fill="#3cb54a" stroke="#333" stroke-width="0.2"/>
<text x="101.10" y="329.50" font-size="8.28" text-anchor="start" fill="#262626" textLength="20.41" lengthAdjust="spacingAndGlyphs">Ysh2#</text>
<text x="50.00" y="430.00" font-size="8.74" text-anchor="middle" fill="#262626" textLength="33.78" lengthAdjust="spacingAndGlyphs">MOLM-13</text>
<text x="90.00" y="430.00" font-size="8.74" text-anchor="middle" fill="#262626" textLength="35.90" lengthAdjust="spacingAndGlyphs">KASUMI-1</text>
<text x="127.50" y="430.00" font-size="8.74" text-anchor="middle" fill="#262626" textLength="17.31" lengthAdjust="spacingAndGlyphs">NB-4</text>
<rect x="182.60" y="342.10" width="5.80" height="76.20" fill="#c8163a" stroke="#3a1a1a" stroke-width="0.4"/>
<line x1="185.50" y1="342.10" x2="185.50" y2="340.92" stroke="#2a2a2a" stroke-width="0.65"/>
<line x1="184.50" y1="340.92" x2="186.50" y2="340.92" stroke="#222" stroke-width="0.75"/>
<rect x="190.10" y="406.34" width="5.80" height="11.96" fill="#1b4f8b" stroke="#0f2a4a" stroke-width="0.4"/>
<line x1="193.00" y1="406.34" x2="193.00" y2="405.90" stroke="#2a2a2a" stroke-width="0.65"/>
<line x1="192.00" y1="405.90" x2="194.00" y2="405.90" stroke="#222" stroke-width="0.75"/>
<rect x="197.40" y="410.62" width="5.80" height="7.68" fill="#3cb54a" stroke="#1f5a26" stroke-width="0.4"/>
<line x1="200.30" y1="410.62" x2="200.30" y2="410.18" stroke="#2a2a2a" stroke-width="0.65"/>
<line x1="199.30" y1="410.18" x2="201.30" y2="410.18" stroke="#222" stroke-width="0.75"/>
<rect x="216.60" y="376.22" width="5.80" height="42.09" fill="#c8163a" stroke="#3a1a1a" stroke-width="0.4"/>
<line x1="219.50" y1="376.22" x2="219.50" y2="375.03" stroke="#2a2a2a" stroke-width="0.65"/>
<line x1="218.50" y1="375.03" x2="220.50" y2="375.03" stroke="#222" stroke-width="0.75"/>
<rect x="224.30" y="394.08" width="5.80" height="24.22" fill="#1b4f8b" stroke="#0f2a4a" stroke-width="0.4"/>
<line x1="227.20" y1="394.08" x2="227.20" y2="393.20" stroke="#2a2a2a" stroke-width="0.65"/>
<line x1="226.20" y1="393.20" x2="228.20" y2="393.20" stroke="#222" stroke-width="0.75"/>
<rect x="232.30" y="387.29" width="5.80" height="31.01" fill="#3cb54a" stroke="#1f5a26" stroke-width="0.4"/>
<line x1="235.20" y1="387.29" x2="235.20" y2="386.26" stroke="#2a2a2a" stroke-width="0.65"/>
<line x1="234.20" y1="386.26" x2="236.20" y2="386.26" stroke="#222" stroke-width="0.75"/>
<rect x="251.20" y="372.08" width="5.80" height="46.22" fill="#c8163a" stroke="#3a1a1a" stroke-width="0.4"/>
<line x1="254.10" y1="372.08" x2="254.10" y2="369.72" stroke="#2a2a2a" stroke-width="0.65"/>
<line x1="253.10" y1="369.72" x2="255.10" y2="369.72" stroke="#222" stroke-width="0.75"/>
<rect x="259.10" y="414.46" width="5.80" height="3.84" fill="#1b4f8b" stroke="#0f2a4a" stroke-width="0.4"/>
<line x1="262.00" y1="414.46" x2="262.00" y2="414.02" stroke="#2a2a2a" stroke-width="0.65"/>
<line x1="261.00" y1="414.02" x2="263.00" y2="414.02" stroke="#222" stroke-width="0.75"/>
<rect x="266.80" y="406.19" width="5.80" height="12.11" fill="#3cb54a" stroke="#1f5a26" stroke-width="0.4"/>
<line x1="269.70" y1="406.19" x2="269.70" y2="405.45" stroke="#2a2a2a" stroke-width="0.65"/>
<line x1="268.70" y1="405.45" x2="270.70" y2="405.45" stroke="#222" stroke-width="0.75"/>
<line x1="176.00" y1="329.20" x2="176.00" y2="418.80" stroke="#2a2a2a" stroke-width="1.1"/>
<line x1="175.50" y1="418.30" x2="277.90" y2="418.30" stroke="#2a2a2a" stroke-width="1.1"/>
<line x1="172.70" y1="418.30" x2="176.00" y2="418.30" stroke="#2a2a2a" stroke-width="1.0"/>
<text x="170.20" y="421.10" font-size="8.74" text-anchor="end" fill="#262626" textLength="4.23" lengthAdjust="spacingAndGlyphs">0</text>
<line x1="172.70" y1="388.77" x2="176.00" y2="388.77" stroke="#2a2a2a" stroke-width="1.0"/>
<text x="170.20" y="391.57" font-size="8.74" text-anchor="end" fill="#262626" textLength="12.68" lengthAdjust="spacingAndGlyphs">200</text>
<line x1="172.70" y1="359.23" x2="176.00" y2="359.23" stroke="#2a2a2a" stroke-width="1.0"/>
<text x="170.20" y="362.03" font-size="8.74" text-anchor="end" fill="#262626" textLength="12.68" lengthAdjust="spacingAndGlyphs">400</text>
<line x1="172.70" y1="329.70" x2="176.00" y2="329.70" stroke="#2a2a2a" stroke-width="1.0"/>
<text x="170.20" y="332.50" font-size="8.74" text-anchor="end" fill="#262626" textLength="12.68" lengthAdjust="spacingAndGlyphs">600</text>
<circle cx="190.90" cy="390.90" r="0.85" fill="#262626" stroke="none" stroke-width="0.3"/>
<circle cx="193.80" cy="390.90" r="0.85" fill="#262626" stroke="none" stroke-width="0.3"/>
<circle cx="196.70" cy="390.90" r="0.85" fill="#262626" stroke="none" stroke-width="0.3"/>
<circle cx="198.20" cy="396.70" r="0.85" fill="#262626" stroke="none" stroke-width="0.3"/>
<circle cx="201.10" cy="396.70" r="0.85" fill="#262626" stroke="none" stroke-width="0.3"/>
<circle cx="204.00" cy="396.70" r="0.85" fill="#262626" stroke="none" stroke-width="0.3"/>
<circle cx="225.30" cy="377.00" r="0.85" fill="#262626" stroke="none" stroke-width="0.3"/>
<circle cx="228.20" cy="377.00" r="0.85" fill="#262626" stroke="none" stroke-width="0.3"/>
<circle cx="231.10" cy="377.00" r="0.85" fill="#262626" stroke="none" stroke-width="0.3"/>
<circle cx="231.60" cy="371.30" r="0.85" fill="#262626" stroke="none" stroke-width="0.3"/>
<circle cx="234.50" cy="371.30" r="0.85" fill="#262626" stroke="none" stroke-width="0.3"/>
<circle cx="237.40" cy="371.30" r="0.85" fill="#262626" stroke="none" stroke-width="0.3"/>
<circle cx="259.70" cy="394.80" r="0.85" fill="#262626" stroke="none" stroke-width="0.3"/>
<circle cx="262.60" cy="394.80" r="0.85" fill="#262626" stroke="none" stroke-width="0.3"/>
<circle cx="265.50" cy="394.80" r="0.85" fill="#262626" stroke="none" stroke-width="0.3"/>
<circle cx="266.40" cy="389.80" r="0.85" fill="#262626" stroke="none" stroke-width="0.3"/>
<circle cx="269.30" cy="389.80" r="0.85" fill="#262626" stroke="none" stroke-width="0.3"/>
<circle cx="272.20" cy="389.80" r="0.85" fill="#262626" stroke="none" stroke-width="0.3"/>
<text x="151.90" y="372.00" font-size="8.74" text-anchor="middle" fill="#262626" transform="rotate(-90 151.90 372.00)" textLength="51.53" lengthAdjust="spacingAndGlyphs">Colony number</text>
<text x="144.20" y="313.80" font-size="11.00" text-anchor="start" fill="#111" font-weight="bold">I</text>
<rect x="189.90" y="325.30" width="3.40" height="3.40" fill="#c8163a" stroke="#333" stroke-width="0.2"/>
<text x="194.30" y="329.70" font-size="8.28" text-anchor="start" fill="#262626" textLength="10.80" lengthAdjust="spacingAndGlyphs">Scr</text>
<rect x="208.80" y="325.30" width="3.40" height="3.40" fill="#1b4f8b" stroke="#333" stroke-width="0.2"/>
<text x="214.20" y="329.70" font-size="8.28" text-anchor="start" fill="#262626" textLength="20.41" lengthAdjust="spacingAndGlyphs">Ysh1#</text>
<rect x="236.70" y="325.30" width="3.40" height="3.40" fill="#3cb54a" stroke="#333" stroke-width="0.2"/>
<text x="241.60" y="329.70" font-size="8.28" text-anchor="start" fill="#262626" textLength="20.41" lengthAdjust="spacingAndGlyphs">Ysh2#</text>
<text x="191.20" y="430.00" font-size="9.31" text-anchor="middle" fill="#262626" textLength="36.00" lengthAdjust="spacingAndGlyphs">MOLM-13</text>
<text x="233.60" y="430.00" font-size="8.74" text-anchor="middle" fill="#262626" textLength="35.90" lengthAdjust="spacingAndGlyphs">KASUMI-1</text>
<text x="262.30" y="430.00" font-size="8.74" text-anchor="middle" fill="#262626" textLength="17.31" lengthAdjust="spacingAndGlyphs">NB-4</text>
<rect x="309.10" y="401.66" width="3.10" height="16.54" fill="#c8163a" stroke="#3a1a1a" stroke-width="0.4"/>
<line x1="310.65" y1="401.66" x2="310.65" y2="400.54" stroke="#2a2a2a" stroke-width="0.65"/>
<line x1="309.65" y1="400.54" x2="311.65" y2="400.54" stroke="#222" stroke-width="0.75"/>
<rect x="312.40" y="396.07" width="3.10" height="22.13" fill="#1b4f8b" stroke="#0f2a4a" stroke-width="0.4"/>
<line x1="313.95" y1="396.07" x2="313.95" y2="394.29" stroke="#2a2a2a" stroke-width="0.65"/>
<line x1="312.95" y1="394.29" x2="314.95" y2="394.29" stroke="#222" stroke-width="0.75"/>
<rect x="315.80" y="374.39" width="3.10" height="43.81" fill="#3cb54a" stroke="#1f5a26" stroke-width="0.4"/>
<line x1="317.35" y1="374.39" x2="317.35" y2="372.61" stroke="#2a2a2a" stroke-width="0.65"/>
<line x1="316.35" y1="372.61" x2="318.35" y2="372.61" stroke="#222" stroke-width="0.75"/>
<rect x="324.60" y="411.05" width="3.10" height="7.15" fill="#c8163a" stroke="#3a1a1a" stroke-width="0.4"/>
<line x1="326.15" y1="411.05" x2="326.15" y2="409.26" stroke="#2a2a2a" stroke-width="0.65"/>
<line x1="325.15" y1="409.26" x2="327.15" y2="409.26" stroke="#222" stroke-width="0.75"/>
<rect x="328.00" y="374.39" width="3.10" height="43.81" fill="#1b4f8b" stroke="#0f2a4a" stroke-width="0.4"/>
<line x1="329.55" y1="374.39" x2="329.55" y2="370.37" stroke="#2a2a2a" stroke-width="0.65"/>
<line x1="328.55" y1="370.37" x2="330.55" y2="370.37" stroke="#222" stroke-width="0.75"/>
<rect x="331.40" y="383.78" width="3.10" height="34.42" fill="#3cb54a" stroke="#1f5a26" stroke-width="0.4"/>
<line x1="332.95" y1="383.78" x2="332.95" y2="381.99" stroke="#2a2a2a" stroke-width="0.65"/>
<line x1="331.95" y1="381.99" x2="333.95" y2="381.99" stroke="#222" stroke-width="0.75"/>
<rect x="340.60" y="394.73" width="3.10" height="23.47" fill="#c8163a" stroke="#3a1a1a" stroke-width="0.4"/>
<line x1="342.15" y1="394.73" x2="342.15" y2="390.71" stroke="#2a2a2a" stroke-width="0.65"/>
<line x1="341.15" y1="390.71" x2="343.15" y2="390.71" stroke="#222" stroke-width="0.75"/>
<rect x="344.10" y="352.27" width="3.10" height="65.93" fill="#1b4f8b" stroke="#0f2a4a" stroke-width="0.4"/>
<line x1="345.65" y1="352.27" x2="345.65" y2="348.24" stroke="#2a2a2a" stroke-width="0.65"/>
<line x1="344.65" y1="348.24" x2="346.65" y2="348.24" stroke="#222" stroke-width="0.75"/>
<rect x="347.50" y="340.42" width="3.10" height="77.78" fill="#3cb54a" stroke="#1f5a26" stroke-width="0.4"/>
<line x1="349.05" y1="340.42" x2="349.05" y2="337.74" stroke="#2a2a2a" stroke-width="0.65"/>
<line x1="348.05" y1="337.74" x2="350.05" y2="337.74" stroke="#222" stroke-width="0.75"/>
<line x1="306.30" y1="328.30" x2="306.30" y2="418.70" stroke="#2a2a2a" stroke-width="1.1"/>
<line x1="305.80" y1="418.20" x2="353.50" y2="418.20" stroke="#2a2a2a" stroke-width="1.1"/>
<line x1="303.00" y1="418.20" x2="306.30" y2="418.20" stroke="#2a2a2a" stroke-width="1.0"/>
<text x="300.50" y="421.00" font-size="9.66" text-anchor="end" fill="#262626" textLength="4.67" lengthAdjust="spacingAndGlyphs">0</text>
<line x1="303.00" y1="395.85" x2="306.30" y2="395.85" stroke="#2a2a2a" stroke-width="1.0"/>
<text x="300.50" y="398.65" font-size="9.66" text-anchor="end" fill="#262626" textLength="9.34" lengthAdjust="spacingAndGlyphs">10</text>
<line x1="303.00" y1="373.50" x2="306.30" y2="373.50" stroke="#2a2a2a" stroke-width="1.0"/>
<text x="300.50" y="376.30" font-size="9.66" text-anchor="end" fill="#262626" textLength="9.34" lengthAdjust="spacingAndGlyphs">20</text>
<line x1="303.00" y1="351.15" x2="306.30" y2="351.15" stroke="#2a2a2a" stroke-width="1.0"/>
<text x="300.50" y="353.95" font-size="9.66" text-anchor="end" fill="#262626" textLength="9.34" lengthAdjust="spacingAndGlyphs">30</text>
<line x1="303.00" y1="328.80" x2="306.30" y2="328.80" stroke="#2a2a2a" stroke-width="1.0"/>
<text x="300.50" y="331.60" font-size="9.66" text-anchor="end" fill="#262626" textLength="9.34" lengthAdjust="spacingAndGlyphs">40</text>
<circle cx="313.40" cy="390.30" r="0.85" fill="#262626" stroke="none" stroke-width="0.3"/>
<circle cx="315.30" cy="368.10" r="0.85" fill="#262626" stroke="none" stroke-width="0.3"/>
<circle cx="317.90" cy="368.10" r="0.85" fill="#262626" stroke="none" stroke-width="0.3"/>
<circle cx="320.50" cy="368.10" r="0.85" fill="#262626" stroke="none" stroke-width="0.3"/>
<circle cx="325.90" cy="367.50" r="0.85" fill="#262626" stroke="none" stroke-width="0.3"/>
<circle cx="328.50" cy="367.50" r="0.85" fill="#262626" stroke="none" stroke-width="0.3"/>
<circle cx="331.10" cy="367.50" r="0.85" fill="#262626" stroke="none" stroke-width="0.3"/>
<circle cx="326.20" cy="407.90" r="0.85" fill="#262626" stroke="none" stroke-width="0.3"/>
<circle cx="334.20" cy="376.60" r="0.85" fill="#262626" stroke="none" stroke-width="0.3"/>
<circle cx="336.80" cy="376.60" r="0.85" fill="#262626" stroke="none" stroke-width="0.3"/>
<circle cx="339.40" cy="376.60" r="0.85" fill="#262626" stroke="none" stroke-width="0.3"/>
<circle cx="339.20" cy="344.00" r="0.85" fill="#262626" stroke="none" stroke-width="0.3"/>
<circle cx="341.80" cy="344.00" r="0.85" fill="#262626" stroke="none" stroke-width="0.3"/>
<circle cx="344.40" cy="344.00" r="0.85" fill="#262626" stroke="none" stroke-width="0.3"/>
<circle cx="346.50" cy="332.50" r="0.85" fill="#262626" stroke="none" stroke-width="0.3"/>
<circle cx="349.10" cy="332.50" r="0.85" fill="#262626" stroke="none" stroke-width="0.3"/>
<circle cx="351.70" cy="332.50" r="0.85" fill="#262626" stroke="none" stroke-width="0.3"/>
<text x="287.60" y="370.00" font-size="8.62" text-anchor="middle" fill="#262626" transform="rotate(-90 287.60 370.00)" textLength="68.65" lengthAdjust="spacingAndGlyphs">% Cell differentiation</text>
<text x="281.40" y="314.50" font-size="11.00" text-anchor="start" fill="#111" font-weight="bold">J</text>
<rect x="312.30" y="322.00" width="3.00" height="3.00" fill="#c8163a" stroke="#333" stroke-width="0.2"/>
<text x="316.40" y="325.80" font-size="7.36" text-anchor="start" fill="#262626" textLength="9.60" lengthAdjust="spacingAndGlyphs">Scr</text>
<rect x="312.30" y="329.50" width="3.00" height="3.00" fill="#1b4f8b" stroke="#333" stroke-width="0.2"/>
<text x="316.40" y="333.30" font-size="7.36" text-anchor="start" fill="#262626" textLength="18.15" lengthAdjust="spacingAndGlyphs">Ysh1#</text>
<rect x="312.30" y="336.70" width="3.00" height="3.00" fill="#3cb54a" stroke="#333" stroke-width="0.2"/>
<text x="316.40" y="340.50" font-size="7.36" text-anchor="start" fill="#262626" textLength="18.15" lengthAdjust="spacingAndGlyphs">Ysh2#</text>
<text x="305.90" y="316.60" font-size="9.31" text-anchor="start" fill="#262626" textLength="36.00" lengthAdjust="spacingAndGlyphs">MOLM-13</text>
<text x="316.20" y="426.50" font-size="9.31" text-anchor="end" fill="#262626" transform="rotate(-45 316.20 426.50)" textLength="29.34" lengthAdjust="spacingAndGlyphs">CD11b+</text>
<text x="331.40" y="426.50" font-size="9.31" text-anchor="end" fill="#262626" transform="rotate(-45 331.40 426.50)" textLength="25.44" lengthAdjust="spacingAndGlyphs">CD14+</text>
<text x="348.40" y="426.00" font-size="9.31" text-anchor="end" fill="#262626" transform="rotate(-45 348.40 426.00)" textLength="17.11" lengthAdjust="spacingAndGlyphs">Total</text>
<rect x="391.00" y="417.56" width="3.10" height="0.34" fill="#c8163a" stroke="#3a1a1a" stroke-width="0.4"/>
<rect x="394.20" y="417.56" width="3.10" height="0.34" fill="#1b4f8b" stroke="#0f2a4a" stroke-width="0.4"/>
<rect x="397.40" y="417.56" width="3.10" height="0.34" fill="#3cb54a" stroke="#1f5a26" stroke-width="0.4"/>
<rect x="403.10" y="400.88" width="3.10" height="17.02" fill="#c8163a" stroke="#3a1a1a" stroke-width="0.4"/>
<rect x="406.50" y="356.08" width="3.10" height="61.82" fill="#1b4f8b" stroke="#0f2a4a" stroke-width="0.4"/>
<line x1="408.05" y1="356.08" x2="408.05" y2="355.18" stroke="#2a2a2a" stroke-width="0.65"/>
<line x1="407.05" y1="355.18" x2="409.05" y2="355.18" stroke="#222" stroke-width="0.75"/>
<rect x="410.00" y="382.96" width="3.10" height="34.94" fill="#3cb54a" stroke="#1f5a26" stroke-width="0.4"/>
<line x1="411.55" y1="382.96" x2="411.55" y2="381.16" stroke="#2a2a2a" stroke-width="0.65"/>
<line x1="410.55" y1="381.16" x2="412.55" y2="381.16" stroke="#222" stroke-width="0.75"/>
<rect x="419.10" y="400.88" width="3.10" height="17.02" fill="#c8163a" stroke="#3a1a1a" stroke-width="0.4"/>
<rect x="422.50" y="356.08" width="3.10" height="61.82" fill="#1b4f8b" stroke="#0f2a4a" stroke-width="0.4"/>
<line x1="424.05" y1="356.08" x2="424.05" y2="355.18" stroke="#2a2a2a" stroke-width="0.65"/>
<line x1="423.05" y1="355.18" x2="425.05" y2="355.18" stroke="#222" stroke-width="0.75"/>
<rect x="425.80" y="382.51" width="3.10" height="35.39" fill="#3cb54a" stroke="#1f5a26" stroke-width="0.4"/>
<line x1="427.35" y1="382.51" x2="427.35" y2="381.61" stroke="#2a2a2a" stroke-width="0.65"/>
<line x1="426.35" y1="381.61" x2="428.35" y2="381.61" stroke="#222" stroke-width="0.75"/>
<line x1="385.00" y1="327.80" x2="385.00" y2="418.40" stroke="#2a2a2a" stroke-width="1.1"/>
<line x1="384.50" y1="417.90" x2="431.30" y2="417.90" stroke="#2a2a2a" stroke-width="1.1"/>
<line x1="381.70" y1="417.90" x2="385.00" y2="417.90" stroke="#2a2a2a" stroke-width="1.0"/>
<text x="379.20" y="420.70" font-size="9.66" text-anchor="end" fill="#262626" textLength="4.67" lengthAdjust="spacingAndGlyphs">0</text>
<line x1="381.70" y1="395.50" x2="385.00" y2="395.50" stroke="#2a2a2a" stroke-width="1.0"/>
<text x="379.20" y="398.30" font-size="9.66" text-anchor="end" fill="#262626" textLength="9.34" lengthAdjust="spacingAndGlyphs">10</text>
<line x1="381.70" y1="373.10" x2="385.00" y2="373.10" stroke="#2a2a2a" stroke-width="1.0"/>
<text x="379.20" y="375.90" font-size="9.66" text-anchor="end" fill="#262626" textLength="9.34" lengthAdjust="spacingAndGlyphs">20</text>
<line x1="381.70" y1="350.70" x2="385.00" y2="350.70" stroke="#2a2a2a" stroke-width="1.0"/>
<text x="379.20" y="353.50" font-size="9.66" text-anchor="end" fill="#262626" textLength="9.34" lengthAdjust="spacingAndGlyphs">30</text>
<line x1="381.70" y1="328.30" x2="385.00" y2="328.30" stroke="#2a2a2a" stroke-width="1.0"/>
<text x="379.20" y="331.10" font-size="9.66" text-anchor="end" fill="#262626" textLength="9.34" lengthAdjust="spacingAndGlyphs">40</text>
<circle cx="404.20" cy="350.30" r="0.85" fill="#262626" stroke="none" stroke-width="0.3"/>
<circle cx="406.80" cy="350.30" r="0.85" fill="#262626" stroke="none" stroke-width="0.3"/>
<circle cx="409.40" cy="350.30" r="0.85" fill="#262626" stroke="none" stroke-width="0.3"/>
<circle cx="412.70" cy="377.50" r="0.85" fill="#262626" stroke="none" stroke-width="0.3"/>
<circle cx="415.30" cy="377.50" r="0.85" fill="#262626" stroke="none" stroke-width="0.3"/>
<circle cx="417.90" cy="377.50" r="0.85" fill="#262626" stroke="none" stroke-width="0.3"/>
<circle cx="420.20" cy="350.30" r="0.85" fill="#262626" stroke="none" stroke-width="0.3"/>
<circle cx="422.80" cy="350.30" r="0.85" fill="#262626" stroke="none" stroke-width="0.3"/>
<circle cx="425.40" cy="350.30" r="0.85" fill="#262626" stroke="none" stroke-width="0.3"/>
<circle cx="428.70" cy="377.50" r="0.85" fill="#262626" stroke="none" stroke-width="0.3"/>
<circle cx="431.30" cy="377.50" r="0.85" fill="#262626" stroke="none" stroke-width="0.3"/>
<circle cx="433.90" cy="377.50" r="0.85" fill="#262626" stroke="none" stroke-width="0.3"/>
<text x="366.40" y="370.00" font-size="8.62" text-anchor="middle" fill="#262626" transform="rotate(-90 366.40 370.00)" textLength="68.65" lengthAdjust="spacingAndGlyphs">% Cell differentiation</text>
<text x="361.80" y="314.50" font-size="11.00" text-anchor="start" fill="#111" font-weight="bold">K</text>
<rect x="393.50" y="321.50" width="3.00" height="3.00" fill="#c8163a" stroke="#333" stroke-width="0.2"/>
<text x="398.80" y="325.30" font-size="7.36" text-anchor="start" fill="#262626" textLength="9.60" lengthAdjust="spacingAndGlyphs">Scr</text>
<rect x="393.50" y="329.40" width="3.00" height="3.00" fill="#1b4f8b" stroke="#333" stroke-width="0.2"/>
<text x="398.80" y="333.20" font-size="7.36" text-anchor="start" fill="#262626" textLength="18.15" lengthAdjust="spacingAndGlyphs">Ysh1#</text>
<rect x="393.50" y="336.80" width="3.00" height="3.00" fill="#3cb54a" stroke="#333" stroke-width="0.2"/>
<text x="398.80" y="340.60" font-size="7.36" text-anchor="start" fill="#262626" textLength="18.15" lengthAdjust="spacingAndGlyphs">Ysh2#</text>
<text x="391.20" y="316.60" font-size="8.74" text-anchor="start" fill="#262626" textLength="35.90" lengthAdjust="spacingAndGlyphs">KASUMI-1</text>
<text x="394.90" y="426.50" font-size="9.31" text-anchor="end" fill="#262626" transform="rotate(-45 394.90 426.50)" textLength="29.34" lengthAdjust="spacingAndGlyphs">CD11b+</text>
<text x="410.40" y="426.50" font-size="9.31" text-anchor="end" fill="#262626" transform="rotate(-45 410.40 426.50)" textLength="25.44" lengthAdjust="spacingAndGlyphs">CD14+</text>
<text x="427.40" y="426.00" font-size="9.31" text-anchor="end" fill="#262626" transform="rotate(-45 427.40 426.00)" textLength="17.11" lengthAdjust="spacingAndGlyphs">Total</text>
<rect x="467.40" y="410.85" width="3.00" height="7.15" fill="#c8163a" stroke="#3a1a1a" stroke-width="0.4"/>
<line x1="468.90" y1="410.85" x2="468.90" y2="410.31" stroke="#2a2a2a" stroke-width="0.65"/>
<line x1="467.90" y1="410.31" x2="469.90" y2="410.31" stroke="#222" stroke-width="0.75"/>
<rect x="470.90" y="345.41" width="3.00" height="72.59" fill="#1b4f8b" stroke="#0f2a4a" stroke-width="0.4"/>
<line x1="472.40" y1="345.41" x2="472.40" y2="344.69" stroke="#2a2a2a" stroke-width="0.65"/>
<line x1="471.40" y1="344.69" x2="473.40" y2="344.69" stroke="#222" stroke-width="0.75"/>
<rect x="474.30" y="408.52" width="3.00" height="9.48" fill="#3cb54a" stroke="#1f5a26" stroke-width="0.4"/>
<line x1="475.80" y1="408.52" x2="475.80" y2="407.99" stroke="#2a2a2a" stroke-width="0.65"/>
<line x1="474.80" y1="407.99" x2="476.80" y2="407.99" stroke="#222" stroke-width="0.75"/>
<rect x="483.30" y="415.68" width="3.00" height="2.32" fill="#c8163a" stroke="#3a1a1a" stroke-width="0.4"/>
<line x1="484.80" y1="415.68" x2="484.80" y2="415.32" stroke="#2a2a2a" stroke-width="0.65"/>
<line x1="483.80" y1="415.32" x2="485.80" y2="415.32" stroke="#222" stroke-width="0.75"/>
<rect x="486.50" y="411.92" width="3.00" height="6.08" fill="#1b4f8b" stroke="#0f2a4a" stroke-width="0.4"/>
<line x1="488.00" y1="411.92" x2="488.00" y2="411.38" stroke="#2a2a2a" stroke-width="0.65"/>
<line x1="487.00" y1="411.38" x2="489.00" y2="411.38" stroke="#222" stroke-width="0.75"/>
<rect x="489.80" y="412.81" width="3.00" height="5.19" fill="#3cb54a" stroke="#1f5a26" stroke-width="0.4"/>
<line x1="491.30" y1="412.81" x2="491.30" y2="412.46" stroke="#2a2a2a" stroke-width="0.65"/>
<line x1="490.30" y1="412.46" x2="492.30" y2="412.46" stroke="#222" stroke-width="0.75"/>
<rect x="498.80" y="408.52" width="3.00" height="9.48" fill="#c8163a" stroke="#3a1a1a" stroke-width="0.4"/>
<line x1="500.30" y1="408.52" x2="500.30" y2="407.81" stroke="#2a2a2a" stroke-width="0.65"/>
<line x1="499.30" y1="407.81" x2="501.30" y2="407.81" stroke="#222" stroke-width="0.75"/>
<rect x="502.30" y="338.61" width="3.00" height="79.39" fill="#1b4f8b" stroke="#0f2a4a" stroke-width="0.4"/>
<line x1="503.80" y1="338.61" x2="503.80" y2="337.90" stroke="#2a2a2a" stroke-width="0.65"/>
<line x1="502.80" y1="337.90" x2="504.80" y2="337.90" stroke="#222" stroke-width="0.75"/>
<rect x="505.70" y="403.34" width="3.00" height="14.66" fill="#3cb54a" stroke="#1f5a26" stroke-width="0.4"/>
<line x1="507.20" y1="403.34" x2="507.20" y2="402.80" stroke="#2a2a2a" stroke-width="0.65"/>
<line x1="506.20" y1="402.80" x2="508.20" y2="402.80" stroke="#222" stroke-width="0.75"/>
<line x1="464.30" y1="328.10" x2="464.30" y2="418.50" stroke="#2a2a2a" stroke-width="1.1"/>
<line x1="463.80" y1="418.00" x2="511.70" y2="418.00" stroke="#2a2a2a" stroke-width="1.1"/>
<line x1="461.00" y1="418.00" x2="464.30" y2="418.00" stroke="#2a2a2a" stroke-width="1.0"/>
<text x="458.50" y="420.80" font-size="9.66" text-anchor="end" fill="#262626" textLength="4.67" lengthAdjust="spacingAndGlyphs">0</text>
<line x1="461.00" y1="400.12" x2="464.30" y2="400.12" stroke="#2a2a2a" stroke-width="1.0"/>
<text x="458.50" y="402.92" font-size="9.66" text-anchor="end" fill="#262626" textLength="9.34" lengthAdjust="spacingAndGlyphs">10</text>
<line x1="461.00" y1="382.24" x2="464.30" y2="382.24" stroke="#2a2a2a" stroke-width="1.0"/>
<text x="458.50" y="385.04" font-size="9.66" text-anchor="end" fill="#262626" textLength="9.34" lengthAdjust="spacingAndGlyphs">20</text>
<line x1="461.00" y1="364.36" x2="464.30" y2="364.36" stroke="#2a2a2a" stroke-width="1.0"/>
<text x="458.50" y="367.16" font-size="9.66" text-anchor="end" fill="#262626" textLength="9.34" lengthAdjust="spacingAndGlyphs">30</text>
<line x1="461.00" y1="346.48" x2="464.30" y2="346.48" stroke="#2a2a2a" stroke-width="1.0"/>
<text x="458.50" y="349.28" font-size="9.66" text-anchor="end" fill="#262626" textLength="9.34" lengthAdjust="spacingAndGlyphs">40</text>
<line x1="461.00" y1="328.60" x2="464.30" y2="328.60" stroke="#2a2a2a" stroke-width="1.0"/>
<text x="458.50" y="331.40" font-size="9.66" text-anchor="end" fill="#262626" textLength="9.34" lengthAdjust="spacingAndGlyphs">50</text>
<circle cx="471.30" cy="342.30" r="0.85" fill="#262626" stroke="none" stroke-width="0.3"/>
<circle cx="473.90" cy="342.30" r="0.85" fill="#262626" stroke="none" stroke-width="0.3"/>
<circle cx="476.50" cy="342.30" r="0.85" fill="#262626" stroke="none" stroke-width="0.3"/>
<circle cx="476.90" cy="404.00" r="0.85" fill="#262626" stroke="none" stroke-width="0.3"/>
<circle cx="479.50" cy="404.00" r="0.85" fill="#262626" stroke="none" stroke-width="0.3"/>
<circle cx="482.10" cy="404.00" r="0.85" fill="#262626" stroke="none" stroke-width="0.3"/>
<circle cx="488.20" cy="400.60" r="0.85" fill="#262626" stroke="none" stroke-width="0.3"/>
<circle cx="490.80" cy="400.60" r="0.85" fill="#262626" stroke="none" stroke-width="0.3"/>
<circle cx="493.40" cy="400.60" r="0.85" fill="#262626" stroke="none" stroke-width="0.3"/>
<circle cx="489.60" cy="407.50" r="0.85" fill="#262626" stroke="none" stroke-width="0.3"/>
<circle cx="492.20" cy="407.50" r="0.85" fill="#262626" stroke="none" stroke-width="0.3"/>
<circle cx="494.80" cy="407.50" r="0.85" fill="#262626" stroke="none" stroke-width="0.3"/>
<circle cx="499.70" cy="336.00" r="0.85" fill="#262626" stroke="none" stroke-width="0.3"/>
<circle cx="502.30" cy="336.00" r="0.85" fill="#262626" stroke="none" stroke-width="0.3"/>
<circle cx="504.90" cy="336.00" r="0.85" fill="#262626" stroke="none" stroke-width="0.3"/>
<circle cx="507.10" cy="398.20" r="0.85" fill="#262626" stroke="none" stroke-width="0.3"/>
<circle cx="509.70" cy="398.20" r="0.85" fill="#262626" stroke="none" stroke-width="0.3"/>
<circle cx="512.30" cy="398.20" r="0.85" fill="#262626" stroke="none" stroke-width="0.3"/>
<text x="445.60" y="370.00" font-size="8.62" text-anchor="middle" fill="#262626" transform="rotate(-90 445.60 370.00)" textLength="68.65" lengthAdjust="spacingAndGlyphs">% Cell differentiation</text>
<text x="439.40" y="314.50" font-size="11.00" text-anchor="start" fill="#111" font-weight="bold">L</text>
<rect x="471.90" y="319.70" width="3.00" height="3.00" fill="#c8163a" stroke="#333" stroke-width="0.2"/>
<text x="476.60" y="323.50" font-size="7.36" text-anchor="start" fill="#262626" textLength="9.60" lengthAdjust="spacingAndGlyphs">Scr</text>
<rect x="471.90" y="327.10" width="3.00" height="3.00" fill="#1b4f8b" stroke="#333" stroke-width="0.2"/>
<text x="476.60" y="330.90" font-size="7.36" text-anchor="start" fill="#262626" textLength="18.15" lengthAdjust="spacingAndGlyphs">Ysh1#</text>
<rect x="471.90" y="335.20" width="3.00" height="3.00" fill="#3cb54a" stroke="#333" stroke-width="0.2"/>
<text x="476.60" y="339.00" font-size="7.36" text-anchor="start" fill="#262626" textLength="18.15" lengthAdjust="spacingAndGlyphs">Ysh2#</text>
<text x="475.60" y="316.60" font-size="8.74" text-anchor="start" fill="#262626" textLength="17.31" lengthAdjust="spacingAndGlyphs">NB-4</text>
<text x="473.90" y="426.50" font-size="9.31" text-anchor="end" fill="#262626" transform="rotate(-45 473.90 426.50)" textLength="24.84" lengthAdjust="spacingAndGlyphs">CD11+</text>
<text x="490.40" y="426.50" font-size="9.31" text-anchor="end" fill="#262626" transform="rotate(-45 490.40 426.50)" textLength="25.44" lengthAdjust="spacingAndGlyphs">CD14+</text>
<text x="506.90" y="426.00" font-size="9.31" text-anchor="end" fill="#262626" transform="rotate(-45 506.90 426.00)" textLength="17.11" lengthAdjust="spacingAndGlyphs">Total</text>
<rect x="0.5" y="0.5" width="519" height="452" fill="none" stroke="#151012" stroke-width="1"/>
</svg>
</body></html>
